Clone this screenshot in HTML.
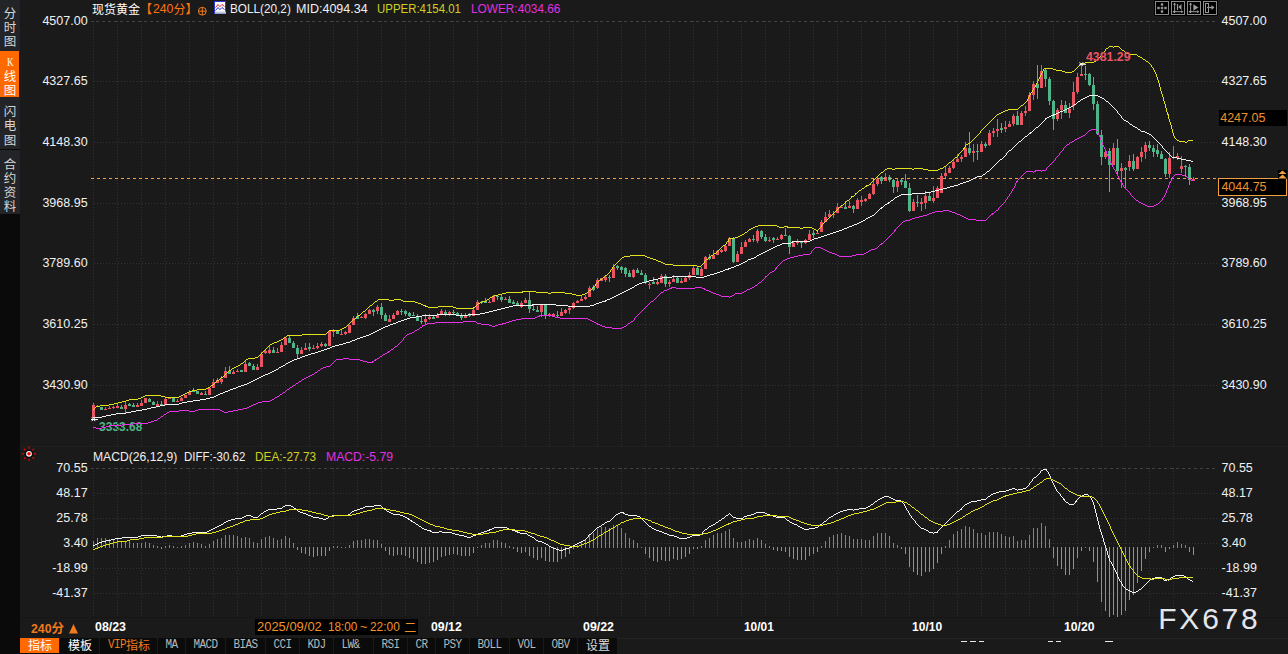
<!DOCTYPE html>
<html><head><meta charset="utf-8"><title>chart</title><style>
html,body{margin:0;padding:0;background:#1a1a1a;}
body{width:1288px;height:654px;overflow:hidden;position:relative;font-family:"Liberation Sans",sans-serif;color:#f0f0f0;}
.t{position:absolute;white-space:nowrap;line-height:16px;height:16px;}
.b{position:absolute;}
svg{position:absolute;left:0;top:0;}
.tab{position:absolute;top:638px;height:16px;background:#0b0b0b;}
.tl{display:block;font-family:"Liberation Mono",monospace;font-size:11px;letter-spacing:-0.6px;color:#b8b8b8;line-height:15px;height:15px;text-align:center;transform:scale(1,1.08);transform-origin:50% 60%;white-space:pre;}
</style></head><body>
<div class="b" style="left:0px;top:0px;width:20px;height:654px;background:#0a0a0a;"></div>
<div class="b" style="left:0px;top:0px;width:20px;height:51px;background:#222428;"></div>
<div class="b" style="left:0px;top:51px;width:19px;height:46px;background:#ff6a00;"></div>
<div class="b" style="left:0px;top:97px;width:20px;height:52px;background:#222428;"></div>
<div class="b" style="left:0px;top:150px;width:20px;height:64px;background:#222428;"></div>
<div class="b" style="left:19px;top:51px;width:1px;height:46px;background:#1e1e1e;"></div>
<div class="t" style="top:418.73px;font-size:12.6px;color:#50b488;font-weight:bold;left:98.70px;transform:scaleX(0.9550);transform-origin:0 50%;">3333.68</div>
<svg width="1288" height="654" viewBox="0 0 1288 654">
<g shape-rendering="crispEdges" stroke="#323232" stroke-width="1">
<line x1="93.5" y1="24" x2="93.5" y2="445" stroke-dasharray="1 2"/>
<line x1="93.5" y1="471" x2="93.5" y2="617" stroke-dasharray="1 2"/>
<line x1="117.5" y1="24" x2="117.5" y2="445" stroke-dasharray="1 2"/>
<line x1="117.5" y1="471" x2="117.5" y2="617" stroke-dasharray="1 2"/>
<line x1="141.5" y1="24" x2="141.5" y2="445" stroke-dasharray="1 2"/>
<line x1="141.5" y1="471" x2="141.5" y2="617" stroke-dasharray="1 2"/>
<line x1="165.5" y1="24" x2="165.5" y2="445" stroke-dasharray="1 2"/>
<line x1="165.5" y1="471" x2="165.5" y2="617" stroke-dasharray="1 2"/>
<line x1="189.5" y1="24" x2="189.5" y2="445" stroke-dasharray="1 2"/>
<line x1="189.5" y1="471" x2="189.5" y2="617" stroke-dasharray="1 2"/>
<line x1="213.5" y1="24" x2="213.5" y2="445" stroke-dasharray="1 2"/>
<line x1="213.5" y1="471" x2="213.5" y2="617" stroke-dasharray="1 2"/>
<line x1="237.5" y1="24" x2="237.5" y2="445" stroke-dasharray="1 2"/>
<line x1="237.5" y1="471" x2="237.5" y2="617" stroke-dasharray="1 2"/>
<line x1="261.5" y1="24" x2="261.5" y2="445" stroke-dasharray="1 2"/>
<line x1="261.5" y1="471" x2="261.5" y2="617" stroke-dasharray="1 2"/>
<line x1="285.5" y1="24" x2="285.5" y2="445" stroke-dasharray="1 2"/>
<line x1="285.5" y1="471" x2="285.5" y2="617" stroke-dasharray="1 2"/>
<line x1="309.5" y1="24" x2="309.5" y2="445" stroke-dasharray="1 2"/>
<line x1="309.5" y1="471" x2="309.5" y2="617" stroke-dasharray="1 2"/>
<line x1="333.5" y1="24" x2="333.5" y2="445" stroke-dasharray="1 2"/>
<line x1="333.5" y1="471" x2="333.5" y2="617" stroke-dasharray="1 2"/>
<line x1="357.5" y1="24" x2="357.5" y2="445" stroke-dasharray="1 2"/>
<line x1="357.5" y1="471" x2="357.5" y2="617" stroke-dasharray="1 2"/>
<line x1="381.5" y1="24" x2="381.5" y2="445" stroke-dasharray="1 2"/>
<line x1="381.5" y1="471" x2="381.5" y2="617" stroke-dasharray="1 2"/>
<line x1="405.5" y1="24" x2="405.5" y2="445" stroke-dasharray="1 2"/>
<line x1="405.5" y1="471" x2="405.5" y2="617" stroke-dasharray="1 2"/>
<line x1="429.5" y1="24" x2="429.5" y2="445" stroke-dasharray="1 2"/>
<line x1="429.5" y1="471" x2="429.5" y2="617" stroke-dasharray="1 2"/>
<line x1="453.5" y1="24" x2="453.5" y2="445" stroke-dasharray="1 2"/>
<line x1="453.5" y1="471" x2="453.5" y2="617" stroke-dasharray="1 2"/>
<line x1="477.5" y1="24" x2="477.5" y2="445" stroke-dasharray="1 2"/>
<line x1="477.5" y1="471" x2="477.5" y2="617" stroke-dasharray="1 2"/>
<line x1="501.5" y1="24" x2="501.5" y2="445" stroke-dasharray="1 2"/>
<line x1="501.5" y1="471" x2="501.5" y2="617" stroke-dasharray="1 2"/>
<line x1="525.5" y1="24" x2="525.5" y2="445" stroke-dasharray="1 2"/>
<line x1="525.5" y1="471" x2="525.5" y2="617" stroke-dasharray="1 2"/>
<line x1="549.5" y1="24" x2="549.5" y2="445" stroke-dasharray="1 2"/>
<line x1="549.5" y1="471" x2="549.5" y2="617" stroke-dasharray="1 2"/>
<line x1="573.5" y1="24" x2="573.5" y2="445" stroke-dasharray="1 2"/>
<line x1="573.5" y1="471" x2="573.5" y2="617" stroke-dasharray="1 2"/>
<line x1="597.5" y1="24" x2="597.5" y2="445" stroke-dasharray="1 2"/>
<line x1="597.5" y1="471" x2="597.5" y2="617" stroke-dasharray="1 2"/>
<line x1="621.5" y1="24" x2="621.5" y2="445" stroke-dasharray="1 2"/>
<line x1="621.5" y1="471" x2="621.5" y2="617" stroke-dasharray="1 2"/>
<line x1="645.5" y1="24" x2="645.5" y2="445" stroke-dasharray="1 2"/>
<line x1="645.5" y1="471" x2="645.5" y2="617" stroke-dasharray="1 2"/>
<line x1="669.5" y1="24" x2="669.5" y2="445" stroke-dasharray="1 2"/>
<line x1="669.5" y1="471" x2="669.5" y2="617" stroke-dasharray="1 2"/>
<line x1="693.5" y1="24" x2="693.5" y2="445" stroke-dasharray="1 2"/>
<line x1="693.5" y1="471" x2="693.5" y2="617" stroke-dasharray="1 2"/>
<line x1="717.5" y1="24" x2="717.5" y2="445" stroke-dasharray="1 2"/>
<line x1="717.5" y1="471" x2="717.5" y2="617" stroke-dasharray="1 2"/>
<line x1="741.5" y1="24" x2="741.5" y2="445" stroke-dasharray="1 2"/>
<line x1="741.5" y1="471" x2="741.5" y2="617" stroke-dasharray="1 2"/>
<line x1="765.5" y1="24" x2="765.5" y2="445" stroke-dasharray="1 2"/>
<line x1="765.5" y1="471" x2="765.5" y2="617" stroke-dasharray="1 2"/>
<line x1="789.5" y1="24" x2="789.5" y2="445" stroke-dasharray="1 2"/>
<line x1="789.5" y1="471" x2="789.5" y2="617" stroke-dasharray="1 2"/>
<line x1="813.5" y1="24" x2="813.5" y2="445" stroke-dasharray="1 2"/>
<line x1="813.5" y1="471" x2="813.5" y2="617" stroke-dasharray="1 2"/>
<line x1="837.5" y1="24" x2="837.5" y2="445" stroke-dasharray="1 2"/>
<line x1="837.5" y1="471" x2="837.5" y2="617" stroke-dasharray="1 2"/>
<line x1="861.5" y1="24" x2="861.5" y2="445" stroke-dasharray="1 2"/>
<line x1="861.5" y1="471" x2="861.5" y2="617" stroke-dasharray="1 2"/>
<line x1="885.5" y1="24" x2="885.5" y2="445" stroke-dasharray="1 2"/>
<line x1="885.5" y1="471" x2="885.5" y2="617" stroke-dasharray="1 2"/>
<line x1="909.5" y1="24" x2="909.5" y2="445" stroke-dasharray="1 2"/>
<line x1="909.5" y1="471" x2="909.5" y2="617" stroke-dasharray="1 2"/>
<line x1="933.5" y1="24" x2="933.5" y2="445" stroke-dasharray="1 2"/>
<line x1="933.5" y1="471" x2="933.5" y2="617" stroke-dasharray="1 2"/>
<line x1="957.5" y1="24" x2="957.5" y2="445" stroke-dasharray="1 2"/>
<line x1="957.5" y1="471" x2="957.5" y2="617" stroke-dasharray="1 2"/>
<line x1="981.5" y1="24" x2="981.5" y2="445" stroke-dasharray="1 2"/>
<line x1="981.5" y1="471" x2="981.5" y2="617" stroke-dasharray="1 2"/>
<line x1="1005.5" y1="24" x2="1005.5" y2="445" stroke-dasharray="1 2"/>
<line x1="1005.5" y1="471" x2="1005.5" y2="617" stroke-dasharray="1 2"/>
<line x1="1029.5" y1="24" x2="1029.5" y2="445" stroke-dasharray="1 2"/>
<line x1="1029.5" y1="471" x2="1029.5" y2="617" stroke-dasharray="1 2"/>
<line x1="1053.5" y1="24" x2="1053.5" y2="445" stroke-dasharray="1 2"/>
<line x1="1053.5" y1="471" x2="1053.5" y2="617" stroke-dasharray="1 2"/>
<line x1="1077.5" y1="24" x2="1077.5" y2="445" stroke-dasharray="1 2"/>
<line x1="1077.5" y1="471" x2="1077.5" y2="617" stroke-dasharray="1 2"/>
<line x1="1101.5" y1="24" x2="1101.5" y2="445" stroke-dasharray="1 2"/>
<line x1="1101.5" y1="471" x2="1101.5" y2="617" stroke-dasharray="1 2"/>
<line x1="1125.5" y1="24" x2="1125.5" y2="445" stroke-dasharray="1 2"/>
<line x1="1125.5" y1="471" x2="1125.5" y2="617" stroke-dasharray="1 2"/>
<line x1="1149.5" y1="24" x2="1149.5" y2="445" stroke-dasharray="1 2"/>
<line x1="1149.5" y1="471" x2="1149.5" y2="617" stroke-dasharray="1 2"/>
<line x1="1173.5" y1="24" x2="1173.5" y2="445" stroke-dasharray="1 2"/>
<line x1="1173.5" y1="471" x2="1173.5" y2="617" stroke-dasharray="1 2"/>
<line x1="94" y1="81.5" x2="1218" y2="81.5" stroke-dasharray="1 2"/>
<line x1="94" y1="142.5" x2="1218" y2="142.5" stroke-dasharray="1 2"/>
<line x1="94" y1="203.5" x2="1218" y2="203.5" stroke-dasharray="1 2"/>
<line x1="94" y1="263.5" x2="1218" y2="263.5" stroke-dasharray="1 2"/>
<line x1="94" y1="324.5" x2="1218" y2="324.5" stroke-dasharray="1 2"/>
<line x1="94" y1="385.5" x2="1218" y2="385.5" stroke-dasharray="1 2"/>
<line x1="94" y1="493.5" x2="1218" y2="493.5" stroke-dasharray="1 2"/>
<line x1="94" y1="518.5" x2="1218" y2="518.5" stroke-dasharray="1 2"/>
<line x1="94" y1="543.5" x2="1218" y2="543.5" stroke-dasharray="1 2"/>
<line x1="94" y1="568.5" x2="1218" y2="568.5" stroke-dasharray="1 2"/>
<line x1="94" y1="593.5" x2="1218" y2="593.5" stroke-dasharray="1 2"/>
</g>
<g shape-rendering="crispEdges" stroke="#424242" stroke-width="1">
<line x1="96" y1="21.5" x2="1218" y2="21.5" stroke-dasharray="3 3"/>
<line x1="91" y1="21.5" x2="94" y2="21.5"/>
<line x1="117" y1="21.5" x2="118" y2="21.5"/>
<line x1="141" y1="21.5" x2="142" y2="21.5"/>
<line x1="165" y1="21.5" x2="166" y2="21.5"/>
<line x1="189" y1="21.5" x2="190" y2="21.5"/>
<line x1="213" y1="21.5" x2="214" y2="21.5"/>
<line x1="237" y1="21.5" x2="238" y2="21.5"/>
<line x1="261" y1="21.5" x2="262" y2="21.5"/>
<line x1="285" y1="21.5" x2="286" y2="21.5"/>
<line x1="309" y1="21.5" x2="310" y2="21.5"/>
<line x1="333" y1="21.5" x2="334" y2="21.5"/>
<line x1="357" y1="21.5" x2="358" y2="21.5"/>
<line x1="381" y1="21.5" x2="382" y2="21.5"/>
<line x1="405" y1="21.5" x2="406" y2="21.5"/>
<line x1="429" y1="21.5" x2="430" y2="21.5"/>
<line x1="453" y1="21.5" x2="454" y2="21.5"/>
<line x1="477" y1="21.5" x2="478" y2="21.5"/>
<line x1="501" y1="21.5" x2="502" y2="21.5"/>
<line x1="525" y1="21.5" x2="526" y2="21.5"/>
<line x1="549" y1="21.5" x2="550" y2="21.5"/>
<line x1="573" y1="21.5" x2="574" y2="21.5"/>
<line x1="597" y1="21.5" x2="598" y2="21.5"/>
<line x1="621" y1="21.5" x2="622" y2="21.5"/>
<line x1="645" y1="21.5" x2="646" y2="21.5"/>
<line x1="669" y1="21.5" x2="670" y2="21.5"/>
<line x1="693" y1="21.5" x2="694" y2="21.5"/>
<line x1="717" y1="21.5" x2="718" y2="21.5"/>
<line x1="741" y1="21.5" x2="742" y2="21.5"/>
<line x1="765" y1="21.5" x2="766" y2="21.5"/>
<line x1="789" y1="21.5" x2="790" y2="21.5"/>
<line x1="813" y1="21.5" x2="814" y2="21.5"/>
<line x1="837" y1="21.5" x2="838" y2="21.5"/>
<line x1="861" y1="21.5" x2="862" y2="21.5"/>
<line x1="885" y1="21.5" x2="886" y2="21.5"/>
<line x1="909" y1="21.5" x2="910" y2="21.5"/>
<line x1="933" y1="21.5" x2="934" y2="21.5"/>
<line x1="957" y1="21.5" x2="958" y2="21.5"/>
<line x1="981" y1="21.5" x2="982" y2="21.5"/>
<line x1="1005" y1="21.5" x2="1006" y2="21.5"/>
<line x1="1029" y1="21.5" x2="1030" y2="21.5"/>
<line x1="1053" y1="21.5" x2="1054" y2="21.5"/>
<line x1="1077" y1="21.5" x2="1078" y2="21.5"/>
<line x1="1101" y1="21.5" x2="1102" y2="21.5"/>
<line x1="1125" y1="21.5" x2="1126" y2="21.5"/>
<line x1="1149" y1="21.5" x2="1150" y2="21.5"/>
<line x1="1173" y1="21.5" x2="1174" y2="21.5"/>
<line x1="96" y1="468.5" x2="1218" y2="468.5" stroke-dasharray="3 3"/>
<line x1="91" y1="468.5" x2="94" y2="468.5"/>
<line x1="117" y1="468.5" x2="118" y2="468.5"/>
<line x1="141" y1="468.5" x2="142" y2="468.5"/>
<line x1="165" y1="468.5" x2="166" y2="468.5"/>
<line x1="189" y1="468.5" x2="190" y2="468.5"/>
<line x1="213" y1="468.5" x2="214" y2="468.5"/>
<line x1="237" y1="468.5" x2="238" y2="468.5"/>
<line x1="261" y1="468.5" x2="262" y2="468.5"/>
<line x1="285" y1="468.5" x2="286" y2="468.5"/>
<line x1="309" y1="468.5" x2="310" y2="468.5"/>
<line x1="333" y1="468.5" x2="334" y2="468.5"/>
<line x1="357" y1="468.5" x2="358" y2="468.5"/>
<line x1="381" y1="468.5" x2="382" y2="468.5"/>
<line x1="405" y1="468.5" x2="406" y2="468.5"/>
<line x1="429" y1="468.5" x2="430" y2="468.5"/>
<line x1="453" y1="468.5" x2="454" y2="468.5"/>
<line x1="477" y1="468.5" x2="478" y2="468.5"/>
<line x1="501" y1="468.5" x2="502" y2="468.5"/>
<line x1="525" y1="468.5" x2="526" y2="468.5"/>
<line x1="549" y1="468.5" x2="550" y2="468.5"/>
<line x1="573" y1="468.5" x2="574" y2="468.5"/>
<line x1="597" y1="468.5" x2="598" y2="468.5"/>
<line x1="621" y1="468.5" x2="622" y2="468.5"/>
<line x1="645" y1="468.5" x2="646" y2="468.5"/>
<line x1="669" y1="468.5" x2="670" y2="468.5"/>
<line x1="693" y1="468.5" x2="694" y2="468.5"/>
<line x1="717" y1="468.5" x2="718" y2="468.5"/>
<line x1="741" y1="468.5" x2="742" y2="468.5"/>
<line x1="765" y1="468.5" x2="766" y2="468.5"/>
<line x1="789" y1="468.5" x2="790" y2="468.5"/>
<line x1="813" y1="468.5" x2="814" y2="468.5"/>
<line x1="837" y1="468.5" x2="838" y2="468.5"/>
<line x1="861" y1="468.5" x2="862" y2="468.5"/>
<line x1="885" y1="468.5" x2="886" y2="468.5"/>
<line x1="909" y1="468.5" x2="910" y2="468.5"/>
<line x1="933" y1="468.5" x2="934" y2="468.5"/>
<line x1="957" y1="468.5" x2="958" y2="468.5"/>
<line x1="981" y1="468.5" x2="982" y2="468.5"/>
<line x1="1005" y1="468.5" x2="1006" y2="468.5"/>
<line x1="1029" y1="468.5" x2="1030" y2="468.5"/>
<line x1="1053" y1="468.5" x2="1054" y2="468.5"/>
<line x1="1077" y1="468.5" x2="1078" y2="468.5"/>
<line x1="1101" y1="468.5" x2="1102" y2="468.5"/>
<line x1="1125" y1="468.5" x2="1126" y2="468.5"/>
<line x1="1149" y1="468.5" x2="1150" y2="468.5"/>
<line x1="1173" y1="468.5" x2="1174" y2="468.5"/>
</g>
<g shape-rendering="crispEdges">
<path fill="#ea5564" d="M93 403h1v2h-1zM92 405h3v13h-3zM105 407h1v2h-1zM104 409h3v1h-3zM109 406h1v2h-1zM108 408h3v1h-3zM113 406h1v1h-1zM113 408h1v1h-1zM112 407h3v1h-3zM117 404h1v2h-1zM116 406h3v2h-3zM125 402h1v3h-1zM125 409h1v4h-1zM124 405h3v4h-3zM137 403h1v2h-1zM136 405h3v2h-3zM141 400h1v3h-1zM140 403h3v3h-3zM144 398h3v5h-3zM157 401h1v3h-1zM156 404h3v2h-3zM165 398h1v1h-1zM164 399h3v6h-3zM168 398h3v1h-3zM177 399h1v2h-1zM176 401h3v1h-3zM181 397h1v1h-1zM180 398h3v3h-3zM184 395h3v3h-3zM189 390h1v2h-1zM188 392h3v3h-3zM201 392h1v1h-1zM200 393h3v2h-3zM208 388h3v7h-3zM213 379h1v3h-1zM212 382h3v6h-3zM217 378h1v2h-1zM216 380h3v3h-3zM221 376h1v3h-1zM221 382h1v2h-1zM220 379h3v3h-3zM225 367h1v4h-1zM224 371h3v7h-3zM233 370h1v2h-1zM232 372h3v2h-3zM237 369h1v2h-1zM236 371h3v1h-3zM245 360h1v4h-1zM244 364h3v8h-3zM257 364h1v3h-1zM256 367h3v3h-3zM261 352h1v2h-1zM260 354h3v13h-3zM265 350h1v1h-1zM265 353h1v1h-1zM264 351h3v2h-3zM269 346h1v4h-1zM269 353h1v1h-1zM268 350h3v3h-3zM277 348h1v4h-1zM276 352h3v1h-3zM281 342h1v3h-1zM280 345h3v7h-3zM285 337h1v1h-1zM284 338h3v7h-3zM301 347h1v3h-1zM300 350h3v4h-3zM305 343h1v5h-1zM304 348h3v2h-3zM313 345h1v3h-1zM312 348h3v1h-3zM317 343h1v3h-1zM317 348h1v1h-1zM316 346h3v2h-3zM321 342h1v2h-1zM321 346h1v1h-1zM320 344h3v2h-3zM329 330h1v1h-1zM328 331h3v15h-3zM333 329h1v1h-1zM333 332h1v5h-1zM332 330h3v2h-3zM341 330h1v4h-1zM340 334h3v1h-3zM345 331h1v1h-1zM345 334h1v1h-1zM344 332h3v2h-3zM348 325h3v8h-3zM353 316h1v2h-1zM352 318h3v7h-3zM361 316h1v1h-1zM360 317h3v1h-3zM365 313h1v1h-1zM365 318h1v1h-1zM364 314h3v4h-3zM369 309h1v1h-1zM368 310h3v4h-3zM377 305h1v2h-1zM377 311h1v3h-1zM376 307h3v4h-3zM389 315h1v4h-1zM388 319h3v3h-3zM393 313h1v2h-1zM392 315h3v4h-3zM397 310h1v1h-1zM396 311h3v4h-3zM425 314h1v5h-1zM425 322h1v2h-1zM424 319h3v3h-3zM429 314h1v3h-1zM429 319h1v1h-1zM428 317h3v2h-3zM437 313h1v2h-1zM436 315h3v3h-3zM441 309h1v2h-1zM440 311h3v3h-3zM449 311h1v1h-1zM449 314h1v2h-1zM448 312h3v2h-3zM465 313h1v2h-1zM464 315h3v3h-3zM473 308h1v2h-1zM472 310h3v6h-3zM477 300h1v2h-1zM476 302h3v8h-3zM489 300h1v2h-1zM488 302h3v1h-3zM493 295h1v1h-1zM492 296h3v6h-3zM505 297h1v2h-1zM504 299h3v1h-3zM521 301h1v2h-1zM521 307h1v1h-1zM520 303h3v4h-3zM525 298h1v2h-1zM524 300h3v3h-3zM541 312h1v5h-1zM540 305h3v7h-3zM549 313h1v1h-1zM549 316h1v1h-1zM548 314h3v2h-3zM553 313h1v1h-1zM553 316h1v1h-1zM552 314h3v2h-3zM561 308h1v4h-1zM560 312h3v4h-3zM565 309h1v1h-1zM565 313h1v1h-1zM564 310h3v3h-3zM569 307h1v1h-1zM569 310h1v4h-1zM568 308h3v2h-3zM573 302h1v1h-1zM573 308h1v1h-1zM572 303h3v5h-3zM577 300h1v1h-1zM576 301h3v2h-3zM581 296h1v3h-1zM580 299h3v2h-3zM585 295h1v2h-1zM585 299h1v1h-1zM584 297h3v2h-3zM589 286h1v2h-1zM588 288h3v9h-3zM597 278h1v2h-1zM597 288h1v1h-1zM596 280h3v8h-3zM600 278h3v3h-3zM605 276h1v1h-1zM605 280h1v2h-1zM604 277h3v3h-3zM613 264h1v3h-1zM612 267h3v11h-3zM633 269h1v1h-1zM633 277h1v1h-1zM632 270h3v7h-3zM649 282h1v2h-1zM649 285h1v4h-1zM648 284h3v1h-3zM657 280h1v2h-1zM657 284h1v1h-1zM656 282h3v2h-3zM661 274h1v2h-1zM660 276h3v7h-3zM669 280h1v2h-1zM669 284h1v3h-1zM668 282h3v2h-3zM673 275h1v4h-1zM672 279h3v3h-3zM681 278h1v3h-1zM680 281h3v2h-3zM685 277h1v1h-1zM684 278h3v4h-3zM689 272h1v3h-1zM689 278h1v2h-1zM688 275h3v3h-3zM693 266h1v2h-1zM692 268h3v7h-3zM701 267h1v2h-1zM700 269h3v7h-3zM705 256h1v1h-1zM704 257h3v12h-3zM713 250h1v5h-1zM712 255h3v4h-3zM717 250h1v1h-1zM716 251h3v4h-3zM721 249h1v1h-1zM721 252h1v1h-1zM720 250h3v2h-3zM725 244h1v2h-1zM725 251h1v1h-1zM724 246h3v5h-3zM729 237h1v1h-1zM728 238h3v8h-3zM737 251h1v3h-1zM736 254h3v8h-3zM741 242h1v5h-1zM740 247h3v7h-3zM745 240h1v2h-1zM744 242h3v5h-3zM749 238h1v1h-1zM748 239h3v3h-3zM757 229h1v2h-1zM757 241h1v2h-1zM756 231h3v10h-3zM769 237h1v3h-1zM769 241h1v1h-1zM768 240h3v1h-3zM777 237h1v2h-1zM776 239h3v1h-3zM781 234h1v1h-1zM781 239h1v1h-1zM780 235h3v4h-3zM793 241h1v2h-1zM792 243h3v4h-3zM797 239h1v3h-1zM797 243h1v2h-1zM796 242h3v1h-3zM805 239h1v1h-1zM805 243h1v1h-1zM804 240h3v3h-3zM809 230h1v4h-1zM808 234h3v6h-3zM817 231h1v2h-1zM816 233h3v1h-3zM821 220h1v2h-1zM820 222h3v10h-3zM825 212h1v5h-1zM824 217h3v5h-3zM829 210h1v4h-1zM828 214h3v3h-3zM833 211h1v3h-1zM833 215h1v3h-1zM832 214h3v1h-3zM837 203h1v4h-1zM836 207h3v6h-3zM841 206h1v1h-1zM840 207h3v1h-3zM849 201h1v5h-1zM848 206h3v2h-3zM857 198h1v2h-1zM856 200h3v9h-3zM861 196h1v4h-1zM861 202h1v4h-1zM860 200h3v2h-3zM865 198h1v1h-1zM865 201h1v1h-1zM864 199h3v2h-3zM869 193h1v1h-1zM868 194h3v5h-3zM873 181h1v3h-1zM873 194h1v1h-1zM872 184h3v10h-3zM877 177h1v2h-1zM877 184h1v2h-1zM876 179h3v5h-3zM885 173h1v4h-1zM884 177h3v4h-3zM897 179h1v2h-1zM897 187h1v5h-1zM896 181h3v6h-3zM913 199h1v3h-1zM912 202h3v9h-3zM921 198h1v4h-1zM921 204h1v7h-1zM920 202h3v2h-3zM925 191h1v5h-1zM925 203h1v6h-1zM924 196h3v7h-3zM933 186h1v12h-1zM933 201h1v2h-1zM932 198h3v3h-3zM937 186h1v2h-1zM936 188h3v10h-3zM941 173h1v3h-1zM940 176h3v17h-3zM945 167h1v6h-1zM945 176h1v2h-1zM944 173h3v3h-3zM949 166h1v2h-1zM948 168h3v5h-3zM953 160h1v2h-1zM953 168h1v1h-1zM952 162h3v6h-3zM957 154h1v5h-1zM956 159h3v3h-3zM961 155h1v2h-1zM961 159h1v3h-1zM960 157h3v2h-3zM965 142h1v6h-1zM964 148h3v9h-3zM973 144h1v7h-1zM973 153h1v9h-1zM972 151h3v2h-3zM981 141h1v3h-1zM980 144h3v8h-3zM989 130h1v3h-1zM989 145h1v1h-1zM988 133h3v12h-3zM993 128h1v3h-1zM993 133h1v4h-1zM992 131h3v2h-3zM997 119h1v10h-1zM997 131h1v6h-1zM996 129h3v2h-3zM1005 121h1v6h-1zM1005 129h1v3h-1zM1004 127h3v2h-3zM1009 121h1v3h-1zM1008 124h3v3h-3zM1013 114h1v2h-1zM1013 124h1v2h-1zM1012 116h3v8h-3zM1021 111h1v2h-1zM1020 113h3v12h-3zM1025 106h1v5h-1zM1025 113h1v3h-1zM1024 111h3v2h-3zM1029 92h1v3h-1zM1028 95h3v16h-3zM1033 81h1v3h-1zM1033 95h1v5h-1zM1032 84h3v11h-3zM1041 65h1v6h-1zM1040 71h3v17h-3zM1057 108h1v2h-1zM1057 119h1v2h-1zM1056 110h3v9h-3zM1061 100h1v5h-1zM1061 110h1v9h-1zM1060 105h3v5h-3zM1069 103h1v6h-1zM1069 113h1v5h-1zM1068 109h3v4h-3zM1073 82h1v10h-1zM1073 106h1v4h-1zM1072 92h3v14h-3zM1077 73h1v4h-1zM1077 92h1v2h-1zM1076 77h3v15h-3zM1081 63h1v11h-1zM1080 74h3v2h-3zM1105 149h1v3h-1zM1105 157h1v2h-1zM1104 152h3v5h-3zM1113 143h1v5h-1zM1112 148h3v17h-3zM1121 163h1v5h-1zM1121 171h1v17h-1zM1120 168h3v3h-3zM1129 155h1v6h-1zM1129 167h1v4h-1zM1128 161h3v6h-3zM1137 156h1v1h-1zM1136 157h3v12h-3zM1141 147h1v5h-1zM1141 157h1v5h-1zM1140 152h3v5h-3zM1145 142h1v3h-1zM1145 152h1v7h-1zM1144 145h3v7h-3zM1169 152h1v6h-1zM1169 174h1v4h-1zM1168 158h3v16h-3zM1173 146h1v11h-1zM1173 158h1v1h-1zM1172 157h3v1h-3zM1177 153h1v3h-1zM1177 158h1v2h-1zM1176 156h3v2h-3zM1181 156h1v10h-1zM1181 169h1v4h-1zM1180 166h3v3h-3zM1193 177h1v2h-1zM1192 179h3v2h-3z"/>
<path fill="#50b488" d="M97 405h1v1h-1zM96 406h3v1h-3zM100 407h3v3h-3zM121 405h1v2h-1zM120 407h3v2h-3zM129 403h1v1h-1zM128 404h3v2h-3zM133 403h1v2h-1zM132 405h3v2h-3zM149 398h1v1h-1zM148 399h3v3h-3zM153 401h1v1h-1zM152 402h3v3h-3zM161 401h1v3h-1zM160 404h3v2h-3zM172 398h3v4h-3zM193 388h1v3h-1zM192 391h3v1h-3zM196 391h3v3h-3zM205 391h1v3h-1zM204 394h3v1h-3zM229 366h1v5h-1zM228 371h3v3h-3zM240 370h3v2h-3zM249 362h1v1h-1zM248 363h3v3h-3zM253 364h1v2h-1zM252 366h3v4h-3zM273 347h1v3h-1zM272 350h3v3h-3zM289 336h1v2h-1zM288 338h3v5h-3zM293 341h1v2h-1zM292 343h3v5h-3zM297 345h1v3h-1zM297 354h1v4h-1zM296 348h3v6h-3zM309 343h1v4h-1zM309 349h1v2h-1zM308 347h3v2h-3zM325 343h1v1h-1zM325 346h1v1h-1zM324 344h3v2h-3zM336 331h3v3h-3zM357 313h1v3h-1zM356 316h3v3h-3zM373 309h1v1h-1zM373 312h1v4h-1zM372 310h3v2h-3zM381 303h1v4h-1zM381 315h1v4h-1zM380 307h3v8h-3zM385 313h1v2h-1zM384 315h3v6h-3zM401 309h1v2h-1zM401 312h1v3h-1zM400 311h3v1h-3zM405 310h1v1h-1zM405 314h1v2h-1zM404 311h3v3h-3zM409 312h1v1h-1zM409 316h1v1h-1zM408 313h3v3h-3zM413 312h1v3h-1zM412 315h3v1h-3zM417 314h1v2h-1zM416 316h3v5h-3zM421 317h1v4h-1zM421 322h1v2h-1zM420 321h3v1h-3zM433 316h1v1h-1zM432 317h3v2h-3zM445 310h1v2h-1zM445 314h1v2h-1zM444 312h3v2h-3zM453 310h1v2h-1zM453 313h1v2h-1zM452 312h3v1h-3zM457 312h1v1h-1zM457 315h1v1h-1zM456 313h3v2h-3zM461 313h1v3h-1zM461 318h1v2h-1zM460 316h3v2h-3zM469 313h1v1h-1zM469 316h1v1h-1zM468 314h3v2h-3zM481 301h1v1h-1zM481 303h1v1h-1zM480 302h3v1h-3zM485 298h1v3h-1zM484 301h3v2h-3zM497 297h1v3h-1zM496 296h3v1h-3zM501 295h1v2h-1zM501 300h1v2h-1zM500 297h3v3h-3zM509 296h1v3h-1zM508 299h3v4h-3zM513 300h1v2h-1zM512 302h3v2h-3zM517 301h1v2h-1zM516 303h3v3h-3zM529 292h1v8h-1zM529 309h1v4h-1zM528 300h3v9h-3zM533 305h1v4h-1zM533 310h1v1h-1zM532 309h3v1h-3zM537 306h1v4h-1zM536 310h3v2h-3zM545 315h1v4h-1zM544 305h3v10h-3zM557 311h1v4h-1zM557 316h1v1h-1zM556 315h3v1h-3zM593 285h1v2h-1zM593 290h1v1h-1zM592 287h3v3h-3zM609 275h1v2h-1zM609 278h1v4h-1zM608 277h3v1h-3zM617 265h1v1h-1zM617 268h1v2h-1zM616 266h3v2h-3zM621 266h1v1h-1zM621 270h1v3h-1zM620 267h3v3h-3zM625 267h1v1h-1zM625 274h1v3h-1zM624 268h3v6h-3zM629 270h1v3h-1zM628 273h3v4h-3zM637 268h1v2h-1zM636 270h3v3h-3zM641 270h1v3h-1zM640 273h3v2h-3zM645 273h1v2h-1zM645 283h1v1h-1zM644 275h3v8h-3zM653 277h1v5h-1zM652 282h3v2h-3zM665 274h1v2h-1zM665 284h1v3h-1zM664 276h3v8h-3zM677 277h1v1h-1zM676 278h3v5h-3zM697 267h1v1h-1zM696 268h3v7h-3zM709 254h1v3h-1zM709 259h1v1h-1zM708 257h3v2h-3zM733 237h1v1h-1zM733 262h1v1h-1zM732 238h3v24h-3zM753 235h1v4h-1zM753 240h1v2h-1zM752 239h3v1h-3zM761 230h1v1h-1zM761 237h1v2h-1zM760 231h3v6h-3zM765 234h1v3h-1zM765 241h1v1h-1zM764 237h3v4h-3zM773 237h1v1h-1zM773 240h1v3h-1zM772 238h3v2h-3zM785 228h1v7h-1zM784 235h3v1h-3zM789 235h1v1h-1zM789 247h1v7h-1zM788 236h3v11h-3zM801 243h1v5h-1zM800 242h3v1h-3zM813 230h1v3h-1zM813 235h1v3h-1zM812 233h3v2h-3zM845 201h1v6h-1zM844 207h3v2h-3zM853 205h1v1h-1zM853 209h1v4h-1zM852 206h3v3h-3zM881 176h1v1h-1zM881 181h1v3h-1zM880 177h3v4h-3zM889 175h1v2h-1zM889 180h1v2h-1zM888 177h3v3h-3zM893 179h1v1h-1zM893 187h1v6h-1zM892 180h3v7h-3zM901 179h1v1h-1zM901 182h1v3h-1zM900 180h3v2h-3zM905 174h1v7h-1zM904 181h3v7h-3zM909 183h1v5h-1zM909 211h1v1h-1zM908 188h3v23h-3zM917 195h1v7h-1zM917 203h1v4h-1zM916 202h3v1h-3zM929 193h1v3h-1zM928 196h3v5h-3zM969 132h1v16h-1zM969 153h1v2h-1zM968 148h3v5h-3zM977 144h1v7h-1zM977 152h1v8h-1zM976 151h3v1h-3zM985 142h1v2h-1zM985 146h1v2h-1zM984 144h3v2h-3zM1001 123h1v5h-1zM1001 130h1v3h-1zM1000 128h3v2h-3zM1017 111h1v5h-1zM1016 116h3v9h-3zM1037 65h1v19h-1zM1037 88h1v11h-1zM1036 84h3v4h-3zM1045 69h1v1h-1zM1045 79h1v8h-1zM1044 70h3v9h-3zM1049 77h1v2h-1zM1049 101h1v4h-1zM1048 79h3v22h-3zM1053 100h1v1h-1zM1053 119h1v11h-1zM1052 101h3v18h-3zM1065 101h1v4h-1zM1064 105h3v8h-3zM1085 66h1v8h-1zM1085 75h1v5h-1zM1084 74h3v1h-3zM1089 73h1v1h-1zM1089 85h1v1h-1zM1088 74h3v11h-3zM1093 77h1v8h-1zM1093 104h1v6h-1zM1092 85h3v19h-3zM1097 101h1v3h-1zM1097 134h1v1h-1zM1096 104h3v30h-3zM1101 130h1v5h-1zM1101 157h1v8h-1zM1100 135h3v22h-3zM1109 148h1v3h-1zM1109 165h1v27h-1zM1108 151h3v14h-3zM1117 139h1v9h-1zM1117 171h1v3h-1zM1116 148h3v23h-3zM1125 167h1v1h-1zM1125 170h1v18h-1zM1124 168h3v2h-3zM1133 154h1v7h-1zM1133 169h1v2h-1zM1132 161h3v8h-3zM1149 141h1v4h-1zM1149 148h1v3h-1zM1148 145h3v3h-3zM1153 145h1v3h-1zM1153 152h1v5h-1zM1152 148h3v4h-3zM1157 144h1v6h-1zM1157 154h1v3h-1zM1156 150h3v4h-3zM1161 151h1v3h-1zM1160 154h3v5h-3zM1165 158h1v1h-1zM1165 174h1v3h-1zM1164 159h3v15h-3zM1185 165h1v1h-1zM1185 167h1v9h-1zM1184 166h3v1h-3zM1189 164h1v3h-1zM1189 180h1v5h-1zM1188 167h3v13h-3z"/>
<path fill="#ea5564" d="M93 541h1v7h-1zM97 538h1v10h-1zM101 538h1v10h-1zM105 538h1v10h-1zM109 539h1v9h-1zM113 539h1v9h-1zM117 539h1v9h-1zM121 541h1v7h-1zM125 541h1v7h-1zM129 541h1v7h-1zM133 543h1v5h-1zM137 543h1v5h-1zM141 543h1v5h-1zM145 542h1v6h-1zM149 543h1v5h-1zM153 545h1v3h-1zM157 546h1v2h-1zM165 546h1v2h-1zM169 545h1v3h-1zM173 546h1v2h-1zM177 547h1v1h-1zM181 546h1v2h-1zM185 545h1v3h-1zM189 543h1v5h-1zM193 542h1v6h-1zM197 543h1v5h-1zM201 544h1v4h-1zM205 546h1v2h-1zM209 544h1v4h-1zM213 541h1v7h-1zM217 539h1v9h-1zM221 538h1v10h-1zM225 535h1v13h-1zM229 535h1v13h-1zM233 535h1v13h-1zM237 536h1v12h-1zM241 538h1v10h-1zM245 537h1v11h-1zM249 538h1v10h-1zM253 542h1v6h-1zM257 543h1v5h-1zM261 539h1v9h-1zM265 537h1v11h-1zM269 536h1v12h-1zM273 538h1v10h-1zM277 540h1v8h-1zM281 539h1v9h-1zM285 536h1v12h-1zM289 538h1v10h-1zM293 543h1v5h-1zM333 546h1v2h-1zM337 546h1v2h-1zM341 547h1v1h-1zM345 547h1v1h-1zM349 545h1v3h-1zM353 541h1v7h-1zM357 540h1v8h-1zM361 540h1v8h-1zM365 539h1v9h-1zM369 539h1v9h-1zM373 540h1v8h-1zM377 540h1v8h-1zM381 544h1v4h-1zM477 547h1v1h-1zM481 545h1v3h-1zM485 543h1v5h-1zM489 543h1v5h-1zM493 540h1v8h-1zM497 540h1v8h-1zM501 542h1v6h-1zM505 543h1v5h-1zM509 546h1v2h-1zM577 545h1v3h-1zM581 542h1v6h-1zM585 540h1v8h-1zM589 535h1v13h-1zM593 533h1v15h-1zM597 529h1v19h-1zM601 527h1v21h-1zM605 527h1v21h-1zM609 528h1v20h-1zM613 525h1v23h-1zM617 525h1v23h-1zM621 528h1v20h-1zM625 533h1v15h-1zM629 538h1v10h-1zM633 540h1v8h-1zM637 543h1v5h-1zM641 547h1v1h-1zM701 546h1v2h-1zM705 540h1v8h-1zM709 538h1v10h-1zM713 535h1v13h-1zM717 533h1v15h-1zM721 533h1v15h-1zM725 531h1v17h-1zM729 529h1v19h-1zM733 538h1v10h-1zM737 542h1v6h-1zM741 542h1v6h-1zM745 541h1v7h-1zM749 539h1v9h-1zM753 540h1v8h-1zM757 538h1v10h-1zM761 540h1v8h-1zM765 544h1v4h-1zM769 546h1v2h-1zM821 546h1v2h-1zM825 541h1v7h-1zM829 537h1v11h-1zM833 535h1v13h-1zM837 534h1v14h-1zM841 533h1v15h-1zM845 535h1v13h-1zM849 536h1v12h-1zM853 539h1v9h-1zM857 539h1v9h-1zM861 539h1v9h-1zM865 540h1v8h-1zM869 540h1v8h-1zM873 536h1v12h-1zM877 533h1v15h-1zM881 533h1v15h-1zM885 533h1v15h-1zM889 536h1v12h-1zM893 543h1v5h-1zM897 545h1v3h-1zM945 546h1v2h-1zM949 540h1v8h-1zM953 534h1v14h-1zM957 531h1v17h-1zM961 529h1v19h-1zM965 526h1v22h-1zM969 527h1v21h-1zM973 529h1v19h-1zM977 533h1v15h-1zM981 533h1v15h-1zM985 535h1v13h-1zM989 532h1v16h-1zM993 532h1v16h-1zM997 532h1v16h-1zM1001 534h1v14h-1zM1005 536h1v12h-1zM1009 537h1v11h-1zM1013 536h1v12h-1zM1017 541h1v7h-1zM1021 540h1v8h-1zM1025 540h1v8h-1zM1029 535h1v13h-1zM1033 528h1v20h-1zM1037 528h1v20h-1zM1041 523h1v25h-1zM1045 526h1v22h-1zM1049 539h1v9h-1zM1085 547h1v1h-1zM1153 547h1v1h-1zM1157 545h1v3h-1zM1161 545h1v3h-1zM1173 545h1v3h-1zM1177 542h1v6h-1zM1181 544h1v4h-1zM1185 545h1v3h-1z"/>
<path fill="#50b488" d="M161 547h1v2h-1zM297 547h1v3h-1zM301 547h1v6h-1zM305 547h1v7h-1zM309 547h1v9h-1zM313 547h1v10h-1zM317 547h1v9h-1zM321 547h1v9h-1zM325 547h1v9h-1zM329 547h1v4h-1zM385 547h1v4h-1zM389 547h1v8h-1zM393 547h1v9h-1zM397 547h1v8h-1zM401 547h1v8h-1zM405 547h1v9h-1zM409 547h1v11h-1zM413 547h1v12h-1zM417 547h1v15h-1zM421 547h1v17h-1zM425 547h1v17h-1zM429 547h1v16h-1zM433 547h1v15h-1zM437 547h1v13h-1zM441 547h1v10h-1zM445 547h1v9h-1zM449 547h1v8h-1zM453 547h1v7h-1zM457 547h1v8h-1zM461 547h1v9h-1zM465 547h1v9h-1zM469 547h1v9h-1zM473 547h1v6h-1zM513 547h1v2h-1zM517 547h1v5h-1zM521 547h1v6h-1zM525 547h1v5h-1zM529 547h1v9h-1zM533 547h1v11h-1zM537 547h1v13h-1zM541 547h1v11h-1zM545 547h1v14h-1zM549 547h1v15h-1zM553 547h1v15h-1zM557 547h1v15h-1zM561 547h1v12h-1zM565 547h1v10h-1zM569 547h1v7h-1zM573 547h1v2h-1zM645 547h1v7h-1zM649 547h1v11h-1zM653 547h1v14h-1zM657 547h1v15h-1zM661 547h1v13h-1zM665 547h1v14h-1zM669 547h1v14h-1zM673 547h1v12h-1zM677 547h1v13h-1zM681 547h1v12h-1zM685 547h1v10h-1zM689 547h1v7h-1zM693 547h1v2h-1zM697 547h1v2h-1zM773 547h1v3h-1zM777 547h1v4h-1zM781 547h1v4h-1zM785 547h1v5h-1zM789 547h1v10h-1zM793 547h1v12h-1zM797 547h1v13h-1zM801 547h1v13h-1zM805 547h1v13h-1zM809 547h1v9h-1zM813 547h1v7h-1zM817 547h1v5h-1zM901 547h1v2h-1zM905 547h1v7h-1zM909 547h1v20h-1zM913 547h1v25h-1zM917 547h1v28h-1zM921 547h1v29h-1zM925 547h1v25h-1zM929 547h1v25h-1zM933 547h1v22h-1zM937 547h1v16h-1zM941 547h1v7h-1zM1053 547h1v11h-1zM1057 547h1v19h-1zM1061 547h1v22h-1zM1065 547h1v28h-1zM1069 547h1v28h-1zM1073 547h1v22h-1zM1077 547h1v11h-1zM1081 547h1v4h-1zM1089 547h1v4h-1zM1093 547h1v15h-1zM1097 547h1v35h-1zM1101 547h1v55h-1zM1105 547h1v64h-1zM1109 547h1v71h-1zM1113 547h1v68h-1zM1117 547h1v71h-1zM1121 547h1v68h-1zM1125 547h1v64h-1zM1129 547h1v53h-1zM1133 547h1v48h-1zM1137 547h1v36h-1zM1141 547h1v24h-1zM1145 547h1v12h-1zM1149 547h1v5h-1zM1165 547h1v5h-1zM1169 547h1v2h-1zM1189 547h1v5h-1zM1193 547h1v8h-1z"/>
</g>
<line x1="91" y1="178.5" x2="1217" y2="178.5" stroke="#f0a040" stroke-width="1" stroke-dasharray="3 3" shape-rendering="crispEdges"/>
<path fill="#f2f2f2" shape-rendering="crispEdges" d="M791 242h2v1h-2zM102 416h4v1h-4zM274 370h2v1h-2zM983 174h2v1h-2zM1047 117h2v1h-2zM513 305h20v1h-20zM556 305h12v1h-12zM590 305h4v1h-4zM422 315h15v1h-15zM456 315h12v1h-12zM599 302h3v1h-3zM1081 99h2v1h-2zM238 386h3v1h-3zM763 252h2v1h-2zM369 334h2v1h-2zM836 231h3v1h-3zM1029 133h2v1h-2zM1147 133h2v1h-2zM1078 101h2v1h-2zM1106 101h2v1h-2zM642 282h4v1h-4zM728 268h3v1h-3zM931 191h4v1h-4zM136 410h6v1h-6zM404 319h3v1h-3zM707 275h3v1h-3zM870 216h2v1h-2zM987 171h2v1h-2zM792 241h18v1h-18zM106 415h5v1h-5zM497 309h4v1h-4zM318 351h3v1h-3zM672 276h24v1h-24zM704 276h3v1h-3zM1087 96h2v1h-2zM1098 96h2v1h-2zM818 237h3v1h-3zM925 192h6v1h-6zM736 265h3v1h-3zM259 377h2v1h-2zM777 245h3v1h-3zM480 313h5v1h-5zM388 325h2v1h-2zM1141 131h4v1h-4zM745 261h2v1h-2zM292 360h2v1h-2zM437 314h19v1h-19zM468 314h12v1h-12zM116 413h10v1h-10zM963 182h3v1h-3zM410 317h6v1h-6zM532 304h24v1h-24zM594 304h2v1h-2zM1000 159h2v1h-2zM1181 159h5v1h-5zM901 194h11v1h-11zM200 399h6v1h-6zM505 307h4v1h-4zM255 379h2v1h-2zM1036 127h2v1h-2zM1135 127h2v1h-2zM485 312h4v1h-4zM308 354h3v1h-3zM824 235h3v1h-3zM741 263h2v1h-2zM782 243h9v1h-9zM93 417h9v1h-9zM385 326h3v1h-3zM852 225h2v1h-2zM1056 113h2v1h-2zM1089 95h9v1h-9zM1138 129h2v1h-2zM662 277h10v1h-10zM696 277h8v1h-8zM131 411h5v1h-5zM630 288h2v1h-2zM270 372h2v1h-2zM725 269h4v1h-4zM977 176h5v1h-5zM1051 115h3v1h-3zM165 404h14v1h-14zM759 254h2v1h-2zM885 204h2v1h-2zM830 233h3v1h-3zM416 316h6v1h-6zM950 186h4v1h-4zM1049 116h2v1h-2zM206 398h4v1h-4zM1009 150h2v1h-2zM866 218h2v1h-2zM1071 106h2v1h-2zM187 401h6v1h-6zM156 406h4v1h-4zM297 358h3v1h-3zM1083 98h2v1h-2zM1102 98h2v1h-2zM509 306h4v1h-4zM568 306h22v1h-22zM1186 160h5v1h-5zM343 343h3v1h-3zM731 267h3v1h-3zM193 400h7v1h-7zM288 362h2v1h-2zM958 184h2v1h-2zM842 229h2v1h-2zM639 283h3v1h-3zM649 280h4v1h-4zM939 189h4v1h-4zM1191 161h2v1h-2zM714 273h3v1h-3zM1172 157h5v1h-5zM251 381h2v1h-2zM302 356h3v1h-3zM612 297h2v1h-2zM220 393h3v1h-3zM1069 107h2v1h-2zM751 258h3v1h-3zM350 341h2v1h-2zM912 193h13v1h-13zM126 412h5v1h-5zM327 348h3v1h-3zM381 328h2v1h-2zM847 227h2v1h-2zM147 408h4v1h-4zM1124 120h2v1h-2zM230 389h3v1h-3zM646 281h3v1h-3zM265 374h3v1h-3zM626 290h2v1h-2zM720 271h3v1h-3zM396 322h2v1h-2zM854 224h3v1h-3zM151 407h5v1h-5zM225 391h3v1h-3zM863 220h2v1h-2zM1067 108h2v1h-2zM632 287h2v1h-2zM897 196h2v1h-2zM366 335h3v1h-3zM596 303h3v1h-3zM602 301h4v1h-4zM241 385h3v1h-3zM761 253h2v1h-2zM954 185h4v1h-4zM1149 134h2v1h-2zM493 310h4v1h-4zM315 352h3v1h-3zM210 397h4v1h-4zM401 320h3v1h-3zM859 222h2v1h-2zM935 190h4v1h-4zM1063 110h2v1h-2zM827 234h3v1h-3zM160 405h5v1h-5zM276 369h2v1h-2zM814 238h4v1h-4zM1019 141h2v1h-2zM775 246h2v1h-2zM780 244h2v1h-2zM607 299h3v1h-3zM407 318h3v1h-3zM294 359h3v1h-3zM111 414h5v1h-5zM501 308h4v1h-4zM321 350h3v1h-3zM377 330h2v1h-2zM1130 124h2v1h-2zM253 380h2v1h-2zM743 262h2v1h-2zM390 324h3v1h-3zM300 357h2v1h-2zM710 274h4v1h-4zM182 402h5v1h-5zM849 226h3v1h-3zM966 181h3v1h-3zM332 346h3v1h-3zM628 289h2v1h-2zM268 373h2v1h-2zM489 311h4v1h-4zM272 371h2v1h-2zM311 353h4v1h-4zM757 255h2v1h-2zM357 338h3v1h-3zM1058 112h2v1h-2zM868 217h2v1h-2zM717 272h3v1h-3zM305 355h3v1h-3zM899 195h2v1h-2zM891 200h2v1h-2zM339 344h4v1h-4zM1126 121h2v1h-2zM839 230h3v1h-3zM363 336h3v1h-3zM142 409h5v1h-5zM290 361h2v1h-2zM1177 158h4v1h-4zM960 183h3v1h-3zM373 332h2v1h-2zM249 382h2v1h-2zM812 239h2v1h-2zM821 236h3v1h-3zM218 394h2v1h-2zM739 264h2v1h-2zM844 228h3v1h-3zM383 327h2v1h-2zM653 279h5v1h-5zM943 188h4v1h-4zM624 291h2v1h-2zM263 375h2v1h-2zM723 270h2v1h-2zM1045 118h2v1h-2zM352 340h3v1h-3zM754 257h2v1h-2zM228 390h2v1h-2zM1053 114h3v1h-3zM861 221h2v1h-2zM620 293h2v1h-2zM895 197h2v1h-2zM888 202h2v1h-2zM748 259h3v1h-3zM398 321h3v1h-3zM857 223h2v1h-2zM1065 109h2v1h-2zM833 232h3v1h-3zM880 208h2v1h-2zM286 363h2v1h-2zM393 323h3v1h-3zM605 300h2v1h-2zM1085 97h2v1h-2zM1100 97h2v1h-2zM244 384h3v1h-3zM1074 104h2v1h-2zM214 396h2v1h-2zM734 266h2v1h-2zM324 349h3v1h-3zM379 329h2v1h-2zM1025 136h2v1h-2zM179 403h3v1h-3zM346 342h4v1h-4zM330 347h2v1h-2zM1030 132h2v1h-2zM1145 132h2v1h-2zM616 295h2v1h-2zM1060 111h3v1h-3zM283 365h2v1h-2zM335 345h4v1h-4zM1133 126h2v1h-2zM773 247h2v1h-2zM360 337h3v1h-3zM658 278h4v1h-4zM236 387h2v1h-2zM279 367h2v1h-2zM765 251h2v1h-2zM769 249h2v1h-2zM375 331h2v1h-2zM371 333h2v1h-2zM355 339h2v1h-2zM622 292h2v1h-2zM261 376h2v1h-2zM975 177h2v1h-2zM247 383h2v1h-2zM872 215h2v1h-2zM810 240h2v1h-2zM281 366h2v1h-2zM216 395h2v1h-2zM618 294h2v1h-2zM257 378h2v1h-2zM947 187h3v1h-3zM971 179h2v1h-2zM887 203h2v1h-2zM771 248h2v1h-2zM637 284h2v1h-2zM767 250h2v1h-2zM614 296h2v1h-2zM223 392h2v1h-2zM610 298h2v1h-2zM233 388h3v1h-3zM973 178h2v1h-2zM881 207h2v1h-2zM969 180h2v1h-2zM635 285h2v1h-2zM1027 135h1v1h-1zM634 286h1v1h-1zM1121 116h1v2h-1zM1015 145h1v1h-1zM1032 131h1v1h-1zM883 206h1v1h-1zM1076 103h1v1h-1zM1014 146h1v1h-1zM1170 155h1v1h-1zM1080 100h1v1h-1zM1012 148h1v1h-1zM1013 147h1v1h-1zM1166 151h1v1h-1zM1007 152h1v1h-1zM1155 139h1v1h-1zM1123 119h1v1h-1zM1151 135h1v1h-1zM998 161h1v1h-1zM1117 111h1v2h-1zM1006 153h1v2h-1zM996 163h1v1h-1zM1167 152h1v1h-1zM1118 113h1v1h-1zM1002 158h1v1h-1zM1163 148h1v1h-1zM1045 119h1v1h-1zM1108 102h1v1h-1zM1168 153h1v1h-1zM1162 146h1v2h-1zM1164 149h1v1h-1zM865 219h1v1h-1zM1158 142h1v1h-1zM1153 137h1v1h-1zM1154 138h1v1h-1zM994 165h1v1h-1zM877 211h1v1h-1zM1120 115h1v1h-1zM1140 130h1v1h-1zM1169 154h1v1h-1zM875 213h1v1h-1zM1128 122h1v1h-1zM992 167h1v1h-1zM876 212h1v1h-1zM1165 150h1v1h-1zM982 175h1v1h-1zM1110 104h1v1h-1zM1024 137h1v1h-1zM874 214h1v1h-1zM1171 156h1v1h-1zM1160 144h1v1h-1zM1112 106h1v1h-1zM1156 140h1v1h-1zM1011 149h1v1h-1zM1152 136h1v1h-1zM1119 114h1v1h-1zM1113 107h1v1h-1zM1109 103h1v1h-1zM1137 128h1v1h-1zM1043 121h1v1h-1zM1044 120h1v1h-1zM993 166h1v1h-1zM1159 143h1v1h-1zM1041 123h1v1h-1zM1042 122h1v1h-1zM991 168h1v1h-1zM756 256h1v1h-1zM999 160h1v1h-1zM986 172h1v1h-1zM1115 109h1v1h-1zM1132 125h1v1h-1zM1035 128h1v1h-1zM1116 110h1v1h-1zM985 173h1v1h-1zM890 201h1v1h-1zM990 169h1v1h-1zM1111 105h1v1h-1zM1104 99h1v1h-1zM1028 134h1v1h-1zM1034 129h1v1h-1zM1017 143h1v1h-1zM1018 142h1v1h-1zM1161 145h1v1h-1zM989 170h1v1h-1zM1023 138h1v1h-1zM285 364h1v1h-1zM1073 105h1v1h-1zM1157 141h1v1h-1zM1016 144h1v1h-1zM1021 140h1v1h-1zM878 210h1v1h-1zM1077 102h1v1h-1zM747 260h1v1h-1zM1114 108h1v1h-1zM1005 155h1v1h-1zM1008 151h1v1h-1zM1122 118h1v1h-1zM1003 157h1v1h-1zM1004 156h1v1h-1zM1129 123h1v1h-1zM1040 124h1v1h-1zM894 198h1v1h-1zM997 162h1v1h-1zM1033 130h1v1h-1zM1038 126h1v1h-1zM278 368h1v1h-1zM1039 125h1v1h-1zM1022 139h1v1h-1zM893 199h1v1h-1zM995 164h1v1h-1zM1105 100h1v1h-1zM879 209h1v1h-1zM884 205h1v1h-1z"/>
<path fill="#e2e21c" shape-rendering="crispEdges" d="M630 255h15v1h-15zM711 255h2v1h-2zM255 357h3v1h-3zM758 225h19v1h-19zM665 264h8v1h-8zM673 265h24v1h-24zM955 157h2v1h-2zM1094 61h2v1h-2zM1146 61h2v1h-2zM887 168h5v1h-5zM895 168h17v1h-17zM914 168h9v1h-9zM940 168h3v1h-3zM624 256h6v1h-6zM645 256h2v1h-2zM881 172h2v1h-2zM370 305h2v1h-2zM423 305h3v1h-3zM506 292h17v1h-17zM536 292h12v1h-12zM551 292h14v1h-14zM498 294h4v1h-4zM572 294h4v1h-4zM582 294h3v1h-3zM375 301h2v1h-2zM403 301h12v1h-12zM482 301h4v1h-4zM1081 63h4v1h-4zM1044 68h9v1h-9zM729 238h6v1h-6zM492 296h2v1h-2zM425 306h3v1h-3zM438 306h15v1h-15zM415 302h3v1h-3zM480 302h2v1h-2zM928 170h10v1h-10zM1053 69h3v1h-3zM302 334h24v1h-24zM494 295h4v1h-4zM576 295h6v1h-6zM753 227h2v1h-2zM779 227h5v1h-5zM787 227h13v1h-13zM803 227h9v1h-9zM949 162h2v1h-2zM661 262h2v1h-2zM358 315h2v1h-2zM129 399h9v1h-9zM1003 111h2v1h-2zM418 303h3v1h-3zM478 303h2v1h-2zM697 266h4v1h-4zM600 279h2v1h-2zM522 291h14v1h-14zM653 259h3v1h-3zM706 259h2v1h-2zM232 368h2v1h-2zM141 397h2v1h-2zM165 397h14v1h-14zM221 377h2v1h-2zM114 403h4v1h-4zM999 113h2v1h-2zM1185 142h2v1h-2zM378 299h11v1h-11zM394 299h7v1h-7zM487 299h2v1h-2zM1062 71h3v1h-3zM1072 71h2v1h-2zM656 260h2v1h-2zM502 293h4v1h-4zM548 293h3v1h-3zM565 293h7v1h-7zM585 293h2v1h-2zM622 257h2v1h-2zM647 257h3v1h-3zM755 226h3v1h-3zM777 226h2v1h-2zM784 226h4v1h-4zM118 402h4v1h-4zM100 405h9v1h-9zM192 390h5v1h-5zM1129 54h8v1h-8zM1122 50h2v1h-2zM456 308h18v1h-18zM1109 46h4v1h-4zM1114 46h5v1h-5zM274 342h3v1h-3zM1177 140h2v1h-2zM1188 140h5v1h-5zM428 307h10v1h-10zM453 307h3v1h-3zM473 307h2v1h-2zM1085 62h9v1h-9zM1065 72h7v1h-7zM145 395h16v1h-16zM181 395h2v1h-2zM658 261h3v1h-3zM1056 70h6v1h-6zM126 400h3v1h-3zM287 335h15v1h-15zM1140 57h2v1h-2zM816 230h2v1h-2zM751 228h2v1h-2zM800 228h3v1h-3zM812 228h2v1h-2zM663 263h2v1h-2zM847 200h2v1h-2zM197 389h9v1h-9zM740 235h2v1h-2zM968 143h2v1h-2zM1008 109h10v1h-10zM211 385h2v1h-2zM1138 56h2v1h-2zM270 344h2v1h-2zM248 358h7v1h-7zM208 387h2v1h-2zM238 365h2v1h-2zM189 391h3v1h-3zM284 337h2v1h-2zM109 404h5v1h-5zM1021 105h2v1h-2zM281 339h2v1h-2zM862 188h2v1h-2zM855 193h2v1h-2zM745 232h2v1h-2zM329 330h11v1h-11zM735 237h3v1h-3zM866 185h3v1h-3zM859 190h2v1h-2zM605 275h2v1h-2zM246 359h2v1h-2zM96 406h4v1h-4zM234 367h2v1h-2zM1005 110h3v1h-3zM389 300h5v1h-5zM401 300h2v1h-2zM963 148h2v1h-2zM185 393h2v1h-2zM143 396h2v1h-2zM161 396h4v1h-4zM179 396h2v1h-2zM727 241h2v1h-2zM122 401h4v1h-4zM277 341h2v1h-2zM490 297h2v1h-2zM353 319h2v1h-2zM1179 141h6v1h-6zM997 114h2v1h-2zM1167 114h2v1h-2zM650 258h3v1h-3zM1106 48h2v1h-2zM742 234h2v1h-2zM966 144h2v1h-2zM138 398h3v1h-3zM885 169h2v1h-2zM892 169h3v1h-3zM912 169h2v1h-2zM923 169h5v1h-5zM938 169h2v1h-2zM1001 112h2v1h-2zM272 343h2v1h-2zM344 327h2v1h-2zM206 388h2v1h-2zM217 380h2v1h-2zM421 304h2v1h-2zM738 236h2v1h-2zM869 184h2v1h-2zM1126 53h3v1h-3zM340 329h2v1h-2zM236 366h2v1h-2zM1143 59h2v1h-2zM241 363h2v1h-2zM187 392h2v1h-2zM279 340h2v1h-2zM865 186h2v1h-2zM749 229h2v1h-2zM814 229h2v1h-2zM363 311h2v1h-2zM841 205h2v1h-2zM183 394h2v1h-2zM229 370h2v1h-2zM723 245h2v1h-2zM342 328h2v1h-2zM851 196h3v1h-3zM714 253h2v1h-2zM944 166h2v1h-2zM589 290h2v1h-2zM873 179h2v1h-2zM612 267h1v2h-1zM1096 60h1v1h-1zM1149 63h1v1h-1zM722 246h1v1h-1zM872 181h1v1h-1zM980 131h1v2h-1zM1160 87h1v4h-1zM355 318h1v1h-1zM1035 85h1v2h-1zM1153 68h1v2h-1zM1027 99h1v2h-1zM861 189h1v1h-1zM228 371h1v1h-1zM1174 136h1v2h-1zM1163 97h1v4h-1zM995 116h1v1h-1zM964 147h1v1h-1zM1164 101h1v3h-1zM1145 60h1v1h-1zM604 276h1v1h-1zM817 231h1v1h-1zM837 209h1v1h-1zM1108 47h1v1h-1zM225 374h1v1h-1zM595 284h1v2h-1zM992 119h1v1h-1zM983 128h1v1h-1zM619 260h1v1h-1zM588 291h1v1h-1zM726 242h1v2h-1zM263 351h1v1h-1zM1156 74h1v3h-1zM283 338h1v1h-1zM592 288h1v1h-1zM1169 119h1v3h-1zM825 221h1v1h-1zM953 159h1v1h-1zM883 171h1v1h-1zM1076 68h1v1h-1zM748 230h1v1h-1zM876 177h1v1h-1zM717 251h1v1h-1zM1018 108h1v1h-1zM975 137h1v1h-1zM611 269h1v1h-1zM1137 55h1v1h-1zM328 331h1v1h-1zM1166 108h1v4h-1zM1152 67h1v1h-1zM1155 72h1v2h-1zM963 149h1v1h-1zM1100 56h1v1h-1zM832 214h1v1h-1zM1173 133h1v3h-1zM476 305h1v1h-1zM987 124h1v1h-1zM243 362h1v1h-1zM947 164h1v1h-1zM374 302h1v1h-1zM258 356h1v1h-1zM1119 47h1v1h-1zM1159 83h1v4h-1zM1172 129h1v4h-1zM1080 64h1v1h-1zM602 278h1v1h-1zM350 322h1v1h-1zM93 409h1v1h-1zM871 182h1v1h-1zM990 121h1v1h-1zM701 265h1v1h-1zM1151 65h1v2h-1zM326 333h1v1h-1zM1103 52h1v1h-1zM227 372h1v1h-1zM216 381h1v1h-1zM951 161h1v1h-1zM614 265h1v1h-1zM265 349h1v1h-1zM1098 58h1v1h-1zM836 210h1v1h-1zM1158 80h1v3h-1zM361 313h1v1h-1zM594 286h1v1h-1zM721 247h1v1h-1zM979 133h1v1h-1zM365 310h1v1h-1zM970 142h1v1h-1zM1165 104h1v4h-1zM878 175h1v1h-1zM1032 90h1v2h-1zM1125 52h1v1h-1zM708 258h1v1h-1zM824 222h1v1h-1zM1020 106h1v1h-1zM1175 138h1v1h-1zM1075 69h1v1h-1zM850 198h1v1h-1zM231 369h1v1h-1zM839 207h1v1h-1zM1168 115h1v4h-1zM1176 139h1v1h-1zM994 117h1v1h-1zM854 195h1v1h-1zM843 204h1v1h-1zM958 154h1v2h-1zM985 126h1v1h-1zM621 258h1v1h-1zM372 304h1v1h-1zM728 239h1v2h-1zM827 219h1v1h-1zM982 129h1v1h-1zM1078 66h1v1h-1zM1161 91h1v3h-1zM1124 51h1v1h-1zM260 354h1v1h-1zM747 231h1v1h-1zM1024 103h1v1h-1zM475 306h1v1h-1zM1040 75h1v2h-1zM716 252h1v1h-1zM974 138h1v1h-1zM352 320h1v1h-1zM819 228h1v1h-1zM608 273h1v1h-1zM1120 48h1v1h-1zM597 282h1v1h-1zM703 263h1v1h-1zM1039 77h1v2h-1zM1121 49h1v1h-1zM1171 125h1v4h-1zM834 212h1v1h-1zM962 150h1v1h-1zM989 122h1v1h-1zM977 135h1v1h-1zM616 263h1v1h-1zM957 156h1v1h-1zM946 165h1v1h-1zM1142 58h1v1h-1zM822 224h1v1h-1zM356 317h1v1h-1zM1031 92h1v1h-1zM1157 77h1v3h-1zM95 407h1v1h-1zM360 314h1v1h-1zM873 180h1v1h-1zM1105 49h1v2h-1zM349 323h1v1h-1zM858 191h1v1h-1zM245 360h1v1h-1zM1170 122h1v3h-1zM845 202h1v1h-1zM267 347h1v1h-1zM838 208h1v1h-1zM1043 69h1v2h-1zM489 298h1v1h-1zM264 350h1v1h-1zM1097 59h1v1h-1zM829 217h1v1h-1zM367 308h1v1h-1zM972 140h1v1h-1zM710 256h1v1h-1zM826 220h1v1h-1zM996 115h1v1h-1zM965 145h1v2h-1zM1167 112h1v2h-1zM1034 87h1v1h-1zM1077 67h1v1h-1zM849 199h1v1h-1zM821 225h1v2h-1zM960 152h1v1h-1zM599 280h1v1h-1zM1038 79h1v2h-1zM220 378h1v1h-1zM984 127h1v1h-1zM1030 93h1v2h-1zM603 277h1v1h-1zM224 375h1v1h-1zM880 173h1v1h-1zM213 384h1v1h-1zM477 304h1v1h-1zM884 170h1v1h-1zM1162 94h1v3h-1zM587 292h1v1h-1zM725 244h1v1h-1zM262 352h1v1h-1zM833 213h1v1h-1zM1026 101h1v1h-1zM347 325h1v1h-1zM718 250h1v1h-1zM286 336h1v1h-1zM1019 107h1v1h-1zM1042 71h1v2h-1zM976 136h1v1h-1zM615 264h1v1h-1zM610 270h1v2h-1zM864 187h1v1h-1zM991 120h1v1h-1zM607 274h1v1h-1zM240 364h1v1h-1zM327 332h1v1h-1zM591 289h1v1h-1zM618 261h1v1h-1zM269 345h1v1h-1zM948 163h1v1h-1zM1099 57h1v1h-1zM1037 81h1v2h-1zM259 355h1v1h-1zM875 178h1v1h-1zM369 306h1v1h-1zM952 160h1v1h-1zM1148 62h1v1h-1zM362 312h1v1h-1zM351 321h1v1h-1zM828 218h1v1h-1zM1033 88h1v2h-1zM1079 65h1v1h-1zM744 233h1v1h-1zM702 264h1v1h-1zM705 260h1v1h-1zM971 141h1v1h-1zM1029 95h1v2h-1zM840 206h1v1h-1zM266 348h1v1h-1zM831 215h1v1h-1zM373 303h1v1h-1zM215 382h1v1h-1zM959 153h1v1h-1zM377 300h1v1h-1zM366 309h1v1h-1zM613 266h1v1h-1zM879 174h1v1h-1zM720 248h1v1h-1zM709 257h1v1h-1zM1041 73h1v2h-1zM870 183h1v1h-1zM978 134h1v1h-1zM851 197h1v1h-1zM713 254h1v1h-1zM1025 102h1v1h-1zM820 227h1v1h-1zM1102 53h1v1h-1zM346 326h1v1h-1zM855 194h1v1h-1zM844 203h1v1h-1zM598 281h1v1h-1zM986 125h1v1h-1zM219 379h1v1h-1zM223 376h1v1h-1zM1187 141h1v1h-1zM620 259h1v1h-1zM261 353h1v1h-1zM1028 97h1v2h-1zM954 158h1v1h-1zM943 167h1v1h-1zM486 300h1v1h-1zM1074 70h1v1h-1zM226 373h1v1h-1zM609 272h1v1h-1zM993 118h1v1h-1zM357 316h1v1h-1zM704 261h1v2h-1zM1154 70h1v2h-1zM835 211h1v1h-1zM593 287h1v1h-1zM596 283h1v1h-1zM981 130h1v1h-1zM617 262h1v1h-1zM268 346h1v1h-1zM1101 54h1v2h-1zM1036 83h1v2h-1zM1113 47h1v1h-1zM877 176h1v1h-1zM823 223h1v1h-1zM210 386h1v1h-1zM1023 104h1v1h-1zM818 229h1v1h-1zM1150 64h1v1h-1zM973 139h1v1h-1zM94 408h1v1h-1zM1104 51h1v1h-1zM348 324h1v1h-1zM857 192h1v1h-1zM719 249h1v1h-1zM846 201h1v1h-1zM988 123h1v1h-1zM244 361h1v1h-1zM961 151h1v1h-1zM830 216h1v1h-1zM214 383h1v1h-1zM368 307h1v1h-1z"/>
<path fill="#e632e6" shape-rendering="crispEdges" d="M516 319h5v1h-5zM588 319h2v1h-2zM251 405h2v1h-2zM671 287h5v1h-5zM695 287h7v1h-7zM752 287h2v1h-2zM798 255h5v1h-5zM837 255h2v1h-2zM852 255h4v1h-4zM943 210h6v1h-6zM996 210h2v1h-2zM93 427h3v1h-3zM102 427h4v1h-4zM169 411h10v1h-10zM189 411h6v1h-6zM222 411h2v1h-2zM228 411h5v1h-5zM669 288h3v1h-3zM676 288h19v1h-19zM702 288h3v1h-3zM750 288h2v1h-2zM315 372h2v1h-2zM905 220h5v1h-5zM976 220h10v1h-10zM133 423h15v1h-15zM412 332h2v1h-2zM512 320h4v1h-4zM590 320h2v1h-2zM539 315h14v1h-14zM1016 181h2v1h-2zM803 254h7v1h-7zM835 254h2v1h-2zM856 254h8v1h-8zM794 256h4v1h-4zM839 256h13v1h-13zM435 322h28v1h-28zM506 322h3v1h-3zM594 322h2v1h-2zM420 327h2v1h-2zM605 327h7v1h-7zM622 327h2v1h-2zM910 219h2v1h-2zM968 219h8v1h-8zM198 409h22v1h-22zM238 409h5v1h-5zM1083 135h2v1h-2zM535 317h2v1h-2zM555 317h5v1h-5zM935 211h8v1h-8zM949 211h3v1h-3zM463 321h13v1h-13zM509 321h3v1h-3zM592 321h2v1h-2zM631 321h2v1h-2zM719 295h2v1h-2zM732 295h2v1h-2zM912 218h3v1h-3zM966 218h2v1h-2zM395 346h2v1h-2zM312 374h2v1h-2zM109 425h13v1h-13zM179 410h10v1h-10zM195 410h3v1h-3zM220 410h2v1h-2zM233 410h5v1h-5zM388 351h2v1h-2zM787 258h3v1h-3zM521 318h14v1h-14zM560 318h28v1h-28zM96 428h6v1h-6zM1136 200h2v1h-2zM1191 180h3v1h-3zM425 324h2v1h-2zM481 324h8v1h-8zM498 324h5v1h-5zM597 324h3v1h-3zM1189 179h2v1h-2zM422 325h3v1h-3zM489 325h3v1h-3zM495 325h3v1h-3zM600 325h2v1h-2zM1067 144h2v1h-2zM919 216h4v1h-4zM962 216h2v1h-2zM380 356h2v1h-2zM881 243h2v1h-2zM262 401h8v1h-8zM492 326h3v1h-3zM602 326h3v1h-3zM624 326h2v1h-2zM713 293h3v1h-3zM735 293h7v1h-7zM336 359h7v1h-7zM349 359h11v1h-11zM375 359h2v1h-2zM1035 170h6v1h-6zM1042 170h4v1h-4zM247 407h2v1h-2zM709 291h2v1h-2zM744 291h2v1h-2zM537 316h3v1h-3zM552 316h3v1h-3zM343 358h6v1h-6zM377 358h2v1h-2zM929 213h3v1h-3zM955 213h2v1h-2zM992 213h2v1h-2zM427 323h8v1h-8zM477 323h4v1h-4zM502 323h4v1h-4zM596 323h2v1h-2zM628 323h2v1h-2zM1147 206h7v1h-7zM283 392h2v1h-2zM253 404h3v1h-3zM287 389h2v1h-2zM1070 142h2v1h-2zM1026 171h7v1h-7zM1034 171h2v1h-2zM308 376h2v1h-2zM903 221h2v1h-2zM299 381h2v1h-2zM360 360h3v1h-3zM374 360h2v1h-2zM932 212h3v1h-3zM952 212h3v1h-3zM1143 204h2v1h-2zM1156 204h2v1h-2zM363 361h4v1h-4zM372 361h2v1h-2zM161 416h2v1h-2zM326 366h4v1h-4zM612 328h10v1h-10zM122 424h11v1h-11zM825 250h2v1h-2zM869 250h2v1h-2zM927 214h2v1h-2zM957 214h3v1h-3zM991 214h2v1h-2zM664 290h3v1h-3zM706 290h3v1h-3zM158 418h2v1h-2zM106 426h3v1h-3zM770 272h2v1h-2zM275 397h2v1h-2zM651 301h2v1h-2zM915 217h4v1h-4zM964 217h2v1h-2zM280 394h2v1h-2zM272 399h2v1h-2zM721 296h8v1h-8zM730 296h2v1h-2zM1175 174h7v1h-7zM249 406h2v1h-2zM304 378h2v1h-2zM296 383h2v1h-2zM409 333h3v1h-3zM1182 175h3v1h-3zM1091 129h5v1h-5zM321 368h2v1h-2zM815 247h6v1h-6zM415 330h2v1h-2zM310 375h2v1h-2zM1185 176h2v1h-2zM154 420h3v1h-3zM667 289h2v1h-2zM704 289h2v1h-2zM747 289h3v1h-3zM1111 164h2v1h-2zM258 402h4v1h-4zM1141 203h2v1h-2zM661 292h2v1h-2zM711 292h2v1h-2zM742 292h2v1h-2zM243 408h4v1h-4zM765 276h2v1h-2zM923 215h4v1h-4zM960 215h2v1h-2zM367 362h6v1h-6zM716 294h3v1h-3zM1081 136h2v1h-2zM318 370h2v1h-2zM1072 141h2v1h-2zM306 377h2v1h-2zM785 259h2v1h-2zM148 422h3v1h-3zM1077 138h2v1h-2zM256 403h2v1h-2zM1089 130h2v1h-2zM164 414h2v1h-2zM387 352h2v1h-2zM829 252h3v1h-3zM866 252h2v1h-2zM790 257h4v1h-4zM391 349h2v1h-2zM772 271h2v1h-2zM383 354h2v1h-2zM827 251h2v1h-2zM880 244h2v1h-2zM1145 205h2v1h-2zM1154 205h2v1h-2zM823 249h2v1h-2zM871 249h4v1h-4zM167 412h2v1h-2zM224 412h4v1h-4zM821 248h2v1h-2zM875 248h2v1h-2zM290 387h2v1h-2zM1139 202h2v1h-2zM759 282h2v1h-2zM302 379h2v1h-2zM1075 139h2v1h-2zM417 329h2v1h-2zM151 421h3v1h-3zM1079 137h2v1h-2zM323 367h3v1h-3zM783 260h2v1h-2zM832 253h3v1h-3zM864 253h2v1h-2zM385 353h2v1h-2zM270 400h2v1h-2zM1169 182h2v1h-2zM277 396h2v1h-2zM894 230h2v1h-2zM293 385h2v1h-2zM775 268h2v1h-2zM755 285h2v1h-2zM407 334h2v1h-2zM986 219h1v1h-1zM646 306h1v1h-1zM285 391h1v1h-1zM1049 165h1v1h-1zM1107 154h1v2h-1zM1130 193h1v2h-1zM1064 147h1v1h-1zM1021 176h1v1h-1zM1065 146h1v1h-1zM298 382h1v1h-1zM644 308h1v1h-1zM878 246h1v1h-1zM1114 169h1v1h-1zM422 326h1v1h-1zM289 388h1v1h-1zM902 222h1v1h-1zM1117 174h1v2h-1zM1060 152h1v1h-1zM1015 183h1v3h-1zM1061 151h1v1h-1zM1063 148h1v2h-1zM414 331h1v1h-1zM1020 177h1v1h-1zM1101 140h1v2h-1zM1098 133h1v2h-1zM635 317h1v1h-1zM320 369h1v1h-1zM1009 194h1v2h-1zM1110 161h1v2h-1zM1007 197h1v2h-1zM900 224h1v1h-1zM1057 156h1v1h-1zM335 360h1v1h-1zM1059 153h1v2h-1zM1016 182h1v1h-1zM1105 149h1v2h-1zM403 338h1v2h-1zM1102 142h1v3h-1zM1005 200h1v2h-1zM1087 132h1v1h-1zM1115 170h1v2h-1zM634 318h1v2h-1zM1008 196h1v1h-1zM1006 199h1v1h-1zM1162 198h1v2h-1zM1055 158h1v2h-1zM379 357h1v1h-1zM811 251h1v2h-1zM899 225h1v1h-1zM1166 190h1v3h-1zM1111 163h1v1h-1zM777 266h1v1h-1zM402 340h1v1h-1zM1119 178h1v2h-1zM1002 204h1v1h-1zM1128 191h1v1h-1zM1138 201h1v1h-1zM1122 183h1v2h-1zM163 415h1v1h-1zM1118 176h1v2h-1zM776 267h1v1h-1zM627 324h1v1h-1zM1014 186h1v2h-1zM1099 135h1v2h-1zM1106 151h1v3h-1zM1000 206h1v1h-1zM1108 156h1v3h-1zM333 362h1v1h-1zM390 350h1v1h-1zM1123 185h1v2h-1zM1171 179h1v2h-1zM1012 189h1v2h-1zM660 293h1v1h-1zM1164 195h1v2h-1zM1172 177h1v2h-1zM1100 137h1v3h-1zM1112 165h1v2h-1zM769 273h1v1h-1zM1022 175h1v1h-1zM476 322h1v1h-1zM331 364h1v1h-1zM879 245h1v1h-1zM1097 131h1v2h-1zM884 241h1v1h-1zM885 240h1v1h-1zM658 295h1v1h-1zM767 275h1v1h-1zM1048 166h1v1h-1zM1096 130h1v1h-1zM1069 143h1v1h-1zM1103 145h1v2h-1zM1116 172h1v2h-1zM883 242h1v1h-1zM901 223h1v1h-1zM643 309h1v1h-1zM765 277h1v1h-1zM1047 167h1v1h-1zM1113 167h1v2h-1zM406 335h1v1h-1zM995 211h1v1h-1zM1168 185h1v3h-1zM1019 178h1v1h-1zM1169 183h1v2h-1zM1088 131h1v1h-1zM642 310h1v1h-1zM1046 168h1v2h-1zM1120 180h1v2h-1zM279 395h1v1h-1zM1017 180h1v1h-1zM1104 147h1v2h-1zM1018 179h1v1h-1zM640 312h1v1h-1zM641 311h1v1h-1zM648 304h1v1h-1zM1121 182h1v1h-1zM813 249h1v1h-1zM814 248h1v1h-1zM334 361h1v1h-1zM382 355h1v1h-1zM626 325h1v1h-1zM894 231h1v1h-1zM419 328h1v1h-1zM782 261h1v1h-1zM314 373h1v1h-1zM897 227h1v1h-1zM1160 201h1v1h-1zM810 253h1v1h-1zM812 250h1v1h-1zM734 294h1v1h-1zM400 342h1v1h-1zM1167 188h1v2h-1zM332 363h1v1h-1zM166 413h1v1h-1zM394 347h1v1h-1zM1033 172h1v1h-1zM659 294h1v1h-1zM893 232h1v1h-1zM630 322h1v1h-1zM895 229h1v1h-1zM1158 203h1v1h-1zM768 274h1v1h-1zM868 251h1v1h-1zM1174 175h1v1h-1zM398 344h1v1h-1zM653 300h1v1h-1zM657 296h1v1h-1zM998 208h1v2h-1zM891 234h1v1h-1zM663 291h1v1h-1zM892 233h1v1h-1zM1165 193h1v2h-1zM1058 155h1v1h-1zM1133 197h1v1h-1zM1187 177h1v1h-1zM1004 202h1v1h-1zM877 247h1v1h-1zM650 302h1v1h-1zM754 286h1v1h-1zM1054 160h1v1h-1zM1109 159h1v2h-1zM301 380h1v1h-1zM649 303h1v1h-1zM990 215h1v1h-1zM774 270h1v1h-1zM292 386h1v1h-1zM1010 193h1v1h-1zM758 283h1v1h-1zM1041 171h1v1h-1zM1011 191h1v2h-1zM764 278h1v1h-1zM1024 173h1v1h-1zM1134 198h1v1h-1zM1025 172h1v1h-1zM1188 178h1v1h-1zM405 336h1v1h-1zM988 217h1v1h-1zM1086 133h1v1h-1zM989 216h1v1h-1zM994 212h1v1h-1zM1170 181h1v1h-1zM1161 200h1v1h-1zM1163 197h1v1h-1zM762 280h1v1h-1zM1074 140h1v1h-1zM757 284h1v1h-1zM898 226h1v1h-1zM282 393h1v1h-1zM1066 145h1v1h-1zM1135 199h1v1h-1zM401 341h1v1h-1zM1129 192h1v1h-1zM274 398h1v1h-1zM987 218h1v1h-1zM404 337h1v1h-1zM1124 187h1v1h-1zM1085 134h1v1h-1zM1159 202h1v1h-1zM638 314h1v1h-1zM639 313h1v1h-1zM1131 195h1v1h-1zM896 228h1v1h-1zM295 384h1v1h-1zM1062 150h1v1h-1zM1125 188h1v1h-1zM399 343h1v1h-1zM286 390h1v1h-1zM157 419h1v1h-1zM636 316h1v1h-1zM637 315h1v1h-1zM780 263h1v1h-1zM1173 176h1v1h-1zM781 262h1v1h-1zM1126 189h1v1h-1zM317 371h1v1h-1zM729 297h1v1h-1zM330 365h1v1h-1zM393 348h1v1h-1zM633 320h1v1h-1zM778 265h1v1h-1zM1132 196h1v1h-1zM779 264h1v1h-1zM1003 203h1v1h-1zM397 345h1v1h-1zM160 417h1v1h-1zM655 298h1v1h-1zM775 269h1v1h-1zM889 236h1v1h-1zM656 297h1v1h-1zM890 235h1v1h-1zM1127 190h1v1h-1zM1056 157h1v1h-1zM654 299h1v1h-1zM887 238h1v1h-1zM888 237h1v1h-1zM763 279h1v1h-1zM1052 162h1v1h-1zM1053 161h1v1h-1zM746 290h1v1h-1zM886 239h1v1h-1zM761 281h1v1h-1zM1001 205h1v1h-1zM647 305h1v1h-1zM1050 164h1v1h-1zM1051 163h1v1h-1zM1013 188h1v1h-1zM999 207h1v1h-1zM1023 174h1v1h-1zM645 307h1v1h-1z"/>
<path fill="#f2f2f2" shape-rendering="crispEdges" d="M213 528h2v1h-2zM422 528h2v1h-2zM492 528h2v1h-2zM507 528h2v1h-2zM652 528h2v1h-2zM802 528h2v1h-2zM809 528h6v1h-6zM921 528h3v1h-3zM141 535h16v1h-16zM167 535h5v1h-5zM181 535h3v1h-3zM459 535h5v1h-5zM473 535h3v1h-3zM528 535h2v1h-2zM669 535h5v1h-5zM692 535h8v1h-8zM235 518h7v1h-7zM319 518h4v1h-4zM326 518h2v1h-2zM407 518h2v1h-2zM722 518h2v1h-2zM736 518h7v1h-7zM122 537h16v1h-16zM467 537h4v1h-4zM532 537h2v1h-2zM677 537h2v1h-2zM687 537h3v1h-3zM228 520h3v1h-3zM410 520h2v1h-2zM719 520h2v1h-2zM787 520h2v1h-2zM211 529h2v1h-2zM424 529h3v1h-3zM489 529h3v1h-3zM509 529h3v1h-3zM654 529h2v1h-2zM705 529h2v1h-2zM804 529h5v1h-5zM924 529h2v1h-2zM266 510h2v1h-2zM354 510h3v1h-3zM843 510h4v1h-4zM1034 477h2v1h-2zM221 524h2v1h-2zM416 524h2v1h-2zM602 524h2v1h-2zM713 524h2v1h-2zM794 524h3v1h-3zM820 524h2v1h-2zM246 515h5v1h-5zM308 515h3v1h-3zM332 515h16v1h-16zM400 515h3v1h-3zM628 515h9v1h-9zM726 515h2v1h-2zM747 515h4v1h-4zM770 515h3v1h-3zM268 509h9v1h-9zM357 509h3v1h-3zM384 509h2v1h-2zM847 509h6v1h-6zM854 509h5v1h-5zM960 509h2v1h-2zM1150 579h2v1h-2zM1167 579h3v1h-3zM1188 579h2v1h-2zM283 506h2v1h-2zM291 506h2v1h-2zM365 506h9v1h-9zM868 506h2v1h-2zM300 512h3v1h-3zM389 512h2v1h-2zM620 512h4v1h-4zM756 512h9v1h-9zM838 512h2v1h-2zM187 533h5v1h-5zM452 533h3v1h-3zM478 533h3v1h-3zM520 533h7v1h-7zM664 533h3v1h-3zM192 532h15v1h-15zM432 532h7v1h-7zM442 532h10v1h-10zM481 532h3v1h-3zM517 532h3v1h-3zM662 532h2v1h-2zM929 532h4v1h-4zM934 532h4v1h-4zM209 530h2v1h-2zM427 530h4v1h-4zM487 530h3v1h-3zM512 530h3v1h-3zM656 530h3v1h-3zM926 530h2v1h-2zM217 526h2v1h-2zM419 526h2v1h-2zM599 526h2v1h-2zM649 526h2v1h-2zM709 526h2v1h-2zM798 526h2v1h-2zM1164 580h3v1h-3zM1190 580h2v1h-2zM184 534h3v1h-3zM455 534h4v1h-4zM476 534h2v1h-2zM589 534h2v1h-2zM667 534h2v1h-2zM700 534h2v1h-2zM285 505h6v1h-6zM374 505h7v1h-7zM215 527h2v1h-2zM494 527h13v1h-13zM597 527h2v1h-2zM800 527h2v1h-2zM815 527h3v1h-3zM277 508h5v1h-5zM294 508h2v1h-2zM360 508h3v1h-3zM859 508h7v1h-7zM261 513h2v1h-2zM303 513h3v1h-3zM391 513h2v1h-2zM618 513h2v1h-2zM623 513h2v1h-2zM754 513h2v1h-2zM765 513h2v1h-2zM836 513h2v1h-2zM895 500h6v1h-6zM977 500h4v1h-4zM115 538h7v1h-7zM679 538h8v1h-8zM878 499h2v1h-2zM893 499h2v1h-2zM981 499h5v1h-5zM1063 499h2v1h-2zM207 531h2v1h-2zM430 531h2v1h-2zM439 531h3v1h-3zM484 531h3v1h-3zM515 531h3v1h-3zM659 531h3v1h-3zM551 547h2v1h-2zM569 547h3v1h-3zM875 501h2v1h-2zM900 501h2v1h-2zM971 501h6v1h-6zM1075 501h2v1h-2zM792 523h2v1h-2zM1012 488h3v1h-3zM1023 488h3v1h-3zM1152 578h3v1h-3zM244 516h2v1h-2zM251 516h2v1h-2zM311 516h2v1h-2zM329 516h3v1h-3zM403 516h2v1h-2zM637 516h3v1h-3zM744 516h3v1h-3zM773 516h3v1h-3zM831 516h2v1h-2zM993 493h3v1h-3zM93 545h2v1h-2zM573 545h2v1h-2zM102 541h4v1h-4zM538 541h4v1h-4zM581 541h2v1h-2zM556 549h3v1h-3zM563 549h3v1h-3zM138 536h3v1h-3zM157 536h4v1h-4zM162 536h5v1h-5zM172 536h9v1h-9zM464 536h3v1h-3zM471 536h2v1h-2zM530 536h2v1h-2zM674 536h3v1h-3zM690 536h2v1h-2zM1175 575h9v1h-9zM884 496h5v1h-5zM988 496h2v1h-2zM1080 496h2v1h-2zM1089 496h2v1h-2zM1041 470h2v1h-2zM106 540h5v1h-5zM536 540h2v1h-2zM583 540h2v1h-2zM306 514h2v1h-2zM348 514h2v1h-2zM393 514h7v1h-7zM616 514h2v1h-2zM625 514h3v1h-3zM751 514h3v1h-3zM767 514h3v1h-3zM834 514h2v1h-2zM549 546h2v1h-2zM264 511h2v1h-2zM298 511h2v1h-2zM352 511h2v1h-2zM387 511h2v1h-2zM840 511h3v1h-3zM957 511h2v1h-2zM999 491h7v1h-7zM1006 490h3v1h-3zM242 517h2v1h-2zM253 517h5v1h-5zM313 517h6v1h-6zM405 517h2v1h-2zM733 517h3v1h-3zM776 517h9v1h-9zM829 517h2v1h-2zM226 521h2v1h-2zM411 521h2v1h-2zM607 521h3v1h-3zM824 521h2v1h-2zM1155 577h7v1h-7zM1171 577h2v1h-2zM553 548h3v1h-3zM565 548h4v1h-4zM871 504h2v1h-2zM965 504h2v1h-2zM1069 504h5v1h-5zM97 543h2v1h-2zM544 543h2v1h-2zM577 543h2v1h-2zM880 498h2v1h-2zM891 498h2v1h-2zM1009 489h3v1h-3zM1015 489h2v1h-2zM1018 489h5v1h-5zM967 503h2v1h-2zM882 497h2v1h-2zM889 497h2v1h-2zM1128 590h2v1h-2zM231 519h4v1h-4zM323 519h3v1h-3zM408 519h2v1h-2zM363 507h2v1h-2zM866 507h2v1h-2zM99 542h3v1h-3zM542 542h2v1h-2zM579 542h2v1h-2zM969 502h2v1h-2zM1066 502h2v1h-2zM1132 592h4v1h-4zM1126 589h2v1h-2zM1139 589h2v1h-2zM95 544h2v1h-2zM546 544h2v1h-2zM575 544h2v1h-2zM991 494h2v1h-2zM1084 494h4v1h-4zM224 522h2v1h-2zM413 522h2v1h-2zM605 522h2v1h-2zM716 522h2v1h-2zM790 522h2v1h-2zM1043 469h4v1h-4zM1082 495h2v1h-2zM559 550h4v1h-4zM111 539h4v1h-4zM219 525h2v1h-2zM711 525h2v1h-2zM996 492h3v1h-3zM1173 576h2v1h-2zM1184 576h2v1h-2zM1130 591h2v1h-2zM1136 591h2v1h-2zM643 520h1v1h-1zM1098 521h1v4h-1zM1095 509h1v4h-1zM950 518h1v1h-1zM908 511h1v2h-1zM1108 555h1v3h-1zM1101 532h1v3h-1zM904 504h1v2h-1zM912 518h1v1h-1zM1119 579h1v2h-1zM1141 588h1v1h-1zM1122 584h1v2h-1zM350 513h1v1h-1zM1102 535h1v3h-1zM905 506h1v2h-1zM612 518h1v1h-1zM938 530h1v1h-1zM919 526h1v1h-1zM604 523h1v1h-1zM1027 486h1v1h-1zM1187 578h1v1h-1zM1076 500h1v1h-1zM596 528h1v1h-1zM1105 545h1v3h-1zM702 532h1v2h-1zM725 516h1v1h-1zM1094 505h1v4h-1zM729 513h1v1h-1zM1056 489h1v2h-1zM907 510h1v1h-1zM911 516h1v2h-1zM1097 517h1v4h-1zM1057 491h1v1h-1zM1118 577h1v2h-1zM421 527h1v1h-1zM1030 482h1v1h-1zM1053 483h1v2h-1zM1050 476h1v3h-1zM945 523h1v1h-1zM1115 570h1v2h-1zM1104 542h1v3h-1zM1112 564h1v2h-1zM964 505h1v1h-1zM610 520h1v1h-1zM873 503h1v1h-1zM987 497h1v1h-1zM296 509h1v1h-1zM1163 579h1v1h-1zM1033 478h1v1h-1zM961 508h1v1h-1zM1075 502h1v1h-1zM1148 581h1v1h-1zM1125 588h1v1h-1zM1037 475h1v1h-1zM1145 584h1v1h-1zM383 508h1v1h-1zM644 521h1v1h-1zM877 500h1v1h-1zM591 533h1v1h-1zM645 522h1v1h-1zM910 515h1v1h-1zM1107 551h1v4h-1zM534 538h1v1h-1zM1052 481h1v2h-1zM1100 529h1v3h-1zM1060 494h1v2h-1zM1124 587h1v1h-1zM223 523h1v1h-1zM382 507h1v1h-1zM853 510h1v1h-1zM1096 513h1v4h-1zM928 531h1v1h-1zM1114 568h1v2h-1zM826 520h1v1h-1zM952 516h1v1h-1zM1117 574h1v3h-1zM724 517h1v1h-1zM1103 538h1v4h-1zM1143 586h1v1h-1zM1029 483h1v2h-1zM789 521h1v1h-1zM614 516h1v1h-1zM940 528h1v1h-1zM1055 487h1v2h-1zM743 517h1v1h-1zM1078 498h1v1h-1zM1058 492h1v1h-1zM1040 471h1v2h-1zM1051 479h1v2h-1zM1059 493h1v1h-1zM914 520h1v1h-1zM586 538h1v1h-1zM704 530h1v1h-1zM328 517h1v1h-1zM1113 566h1v2h-1zM708 527h1v1h-1zM728 514h1v1h-1zM963 506h1v1h-1zM1110 561h1v1h-1zM1032 479h1v2h-1zM1192 581h1v1h-1zM947 521h1v1h-1zM913 519h1v1h-1zM1093 502h1v3h-1zM1054 485h1v2h-1zM731 515h1v1h-1zM1106 548h1v3h-1zM1116 572h1v2h-1zM1099 525h1v4h-1zM651 527h1v1h-1zM1109 558h1v3h-1zM640 517h1v1h-1zM730 514h1v1h-1zM1039 473h1v1h-1zM828 518h1v1h-1zM1147 582h1v1h-1zM954 514h1v1h-1zM916 523h1v1h-1zM1062 497h1v1h-1zM593 531h1v1h-1zM259 515h1v1h-1zM942 526h1v1h-1zM282 507h1v1h-1zM293 507h1v1h-1zM263 512h1v1h-1zM986 498h1v1h-1zM601 525h1v1h-1zM297 510h1v1h-1zM718 521h1v1h-1zM646 523h1v1h-1zM1088 495h1v1h-1zM535 539h1v1h-1zM951 517h1v1h-1zM1061 496h1v1h-1zM1138 590h1v1h-1zM703 531h1v1h-1zM1142 587h1v1h-1zM949 519h1v1h-1zM1046 470h1v1h-1zM1068 503h1v1h-1zM939 529h1v1h-1zM418 525h1v1h-1zM870 505h1v1h-1zM588 535h1v2h-1zM915 521h1v2h-1zM611 519h1v1h-1zM937 531h1v1h-1zM874 502h1v1h-1zM527 534h1v1h-1zM1049 474h1v2h-1zM786 519h1v1h-1zM1111 562h1v2h-1zM797 525h1v1h-1zM1031 481h1v1h-1zM946 522h1v1h-1zM572 546h1v1h-1zM1026 487h1v1h-1zM595 529h1v1h-1zM732 516h1v1h-1zM933 533h1v1h-1zM592 532h1v1h-1zM1064 500h1v1h-1zM258 516h1v1h-1zM1149 580h1v1h-1zM819 525h1v1h-1zM956 512h1v1h-1zM1038 474h1v1h-1zM641 518h1v1h-1zM953 515h1v1h-1zM944 524h1v1h-1zM648 525h1v1h-1zM785 518h1v1h-1zM941 527h1v1h-1zM1063 498h1v1h-1zM161 537h1v1h-1zM918 525h1v1h-1zM823 522h1v1h-1zM1074 503h1v1h-1zM827 519h1v1h-1zM721 519h1v1h-1zM1017 490h1v1h-1zM587 537h1v1h-1zM1144 585h1v1h-1zM1121 582h1v2h-1zM917 524h1v1h-1zM1048 472h1v2h-1zM1090 497h1v1h-1zM1170 578h1v1h-1zM1028 485h1v1h-1zM990 495h1v1h-1zM1186 577h1v1h-1zM613 517h1v1h-1zM1077 499h1v1h-1zM548 545h1v1h-1zM1036 476h1v1h-1zM647 524h1v1h-1zM594 530h1v1h-1zM260 514h1v1h-1zM386 510h1v1h-1zM1162 578h1v1h-1zM1092 500h1v2h-1zM1120 581h1v1h-1zM715 523h1v1h-1zM903 503h1v1h-1zM833 515h1v1h-1zM351 512h1v1h-1zM948 520h1v1h-1zM1047 471h1v1h-1zM415 523h1v1h-1zM906 508h1v2h-1zM909 513h1v2h-1zM707 528h1v1h-1zM585 539h1v1h-1zM962 507h1v1h-1zM902 502h1v1h-1zM1091 498h1v2h-1zM818 526h1v1h-1zM955 513h1v1h-1zM381 506h1v1h-1zM1065 501h1v1h-1zM822 523h1v1h-1zM959 510h1v1h-1zM1146 583h1v1h-1zM943 525h1v1h-1zM1123 586h1v1h-1zM615 515h1v1h-1zM1079 497h1v1h-1zM920 527h1v1h-1zM642 519h1v1h-1z"/>
<path fill="#e2e21c" shape-rendering="crispEdges" d="M289 509h13v1h-13zM372 509h3v1h-3zM386 509h4v1h-4zM870 509h4v1h-4zM975 509h3v1h-3zM267 515h2v1h-2zM324 515h4v1h-4zM334 515h18v1h-18zM412 515h2v1h-2zM763 515h14v1h-14zM848 515h3v1h-3zM260 518h3v1h-3zM418 518h2v1h-2zM633 518h12v1h-12zM745 518h9v1h-9zM791 518h2v1h-2zM841 518h3v1h-3zM960 518h2v1h-2zM886 502h10v1h-10zM904 502h3v1h-3zM989 502h2v1h-2zM144 537h19v1h-19zM544 537h3v1h-3zM596 537h2v1h-2zM245 520h5v1h-5zM422 520h2v1h-2zM626 520h3v1h-3zM648 520h3v1h-3zM737 520h4v1h-4zM796 520h3v1h-3zM836 520h3v1h-3zM929 520h2v1h-2zM956 520h2v1h-2zM222 529h3v1h-3zM447 529h5v1h-5zM503 529h12v1h-12zM609 529h2v1h-2zM671 529h2v1h-2zM716 529h2v1h-2zM238 523h2v1h-2zM428 523h2v1h-2zM655 523h3v1h-3zM728 523h3v1h-3zM804 523h3v1h-3zM827 523h4v1h-4zM935 523h3v1h-3zM950 523h2v1h-2zM240 522h3v1h-3zM426 522h2v1h-2zM621 522h3v1h-3zM652 522h3v1h-3zM731 522h2v1h-2zM801 522h3v1h-3zM831 522h3v1h-3zM933 522h2v1h-2zM952 522h2v1h-2zM250 519h10v1h-10zM420 519h2v1h-2zM629 519h4v1h-4zM645 519h3v1h-3zM741 519h4v1h-4zM793 519h3v1h-3zM839 519h2v1h-2zM958 519h2v1h-2zM272 513h4v1h-4zM316 513h5v1h-5zM356 513h4v1h-4zM404 513h5v1h-5zM854 513h5v1h-5zM968 513h2v1h-2zM139 538h5v1h-5zM547 538h2v1h-2zM130 539h9v1h-9zM549 539h2v1h-2zM593 539h2v1h-2zM265 516h2v1h-2zM328 516h6v1h-6zM414 516h2v1h-2zM757 516h6v1h-6zM777 516h12v1h-12zM846 516h2v1h-2zM963 516h2v1h-2zM1034 486h2v1h-2zM1003 496h3v1h-3zM1081 496h11v1h-11zM280 511h6v1h-6zM308 511h4v1h-4zM363 511h4v1h-4zM396 511h4v1h-4zM863 511h4v1h-4zM971 511h2v1h-2zM163 536h25v1h-25zM540 536h4v1h-4zM100 546h3v1h-3zM570 546h9v1h-9zM219 530h3v1h-3zM452 530h7v1h-7zM499 530h4v1h-4zM515 530h10v1h-10zM608 530h2v1h-2zM673 530h2v1h-2zM713 530h3v1h-3zM103 545h3v1h-3zM564 545h6v1h-6zM579 545h2v1h-2zM269 514h3v1h-3zM321 514h3v1h-3zM352 514h4v1h-4zM409 514h3v1h-3zM851 514h3v1h-3zM921 514h2v1h-2zM966 514h2v1h-2zM212 532h4v1h-4zM463 532h4v1h-4zM489 532h7v1h-7zM528 532h3v1h-3zM604 532h2v1h-2zM679 532h3v1h-3zM708 532h3v1h-3zM286 510h3v1h-3zM302 510h6v1h-6zM367 510h5v1h-5zM390 510h6v1h-6zM867 510h3v1h-3zM916 510h2v1h-2zM973 510h2v1h-2zM1046 478h5v1h-5zM235 524h3v1h-3zM430 524h3v1h-3zM618 524h2v1h-2zM658 524h2v1h-2zM726 524h3v1h-3zM807 524h4v1h-4zM823 524h4v1h-4zM938 524h3v1h-3zM947 524h3v1h-3zM98 547h2v1h-2zM1017 492h5v1h-5zM1071 492h2v1h-2zM243 521h2v1h-2zM424 521h2v1h-2zM624 521h2v1h-2zM733 521h4v1h-4zM799 521h2v1h-2zM834 521h2v1h-2zM931 521h2v1h-2zM954 521h2v1h-2zM127 540h3v1h-3zM551 540h3v1h-3zM591 540h2v1h-2zM192 534h4v1h-4zM472 534h11v1h-11zM535 534h2v1h-2zM601 534h2v1h-2zM687 534h16v1h-16zM1140 577h2v1h-2zM1179 577h14v1h-14zM196 533h16v1h-16zM467 533h5v1h-5zM483 533h6v1h-6zM531 533h4v1h-4zM682 533h5v1h-5zM703 533h5v1h-5zM882 504h2v1h-2zM908 504h2v1h-2zM985 504h2v1h-2zM188 535h4v1h-4zM537 535h3v1h-3zM599 535h2v1h-2zM233 525h2v1h-2zM433 525h2v1h-2zM616 525h2v1h-2zM660 525h3v1h-3zM724 525h2v1h-2zM811 525h12v1h-12zM941 525h6v1h-6zM896 501h8v1h-8zM991 501h2v1h-2zM113 542h4v1h-4zM556 542h2v1h-2zM587 542h2v1h-2zM227 527h3v1h-3zM440 527h4v1h-4zM613 527h2v1h-2zM665 527h3v1h-3zM720 527h2v1h-2zM1142 578h9v1h-9zM1154 578h11v1h-11zM1172 578h7v1h-7zM878 506h2v1h-2zM982 506h2v1h-2zM1026 490h4v1h-4zM106 544h4v1h-4zM560 544h4v1h-4zM581 544h3v1h-3zM1005 495h4v1h-4zM1077 495h4v1h-4zM1053 480h2v1h-2zM1037 484h2v1h-2zM276 512h4v1h-4zM312 512h4v1h-4zM360 512h3v1h-3zM400 512h4v1h-4zM859 512h4v1h-4zM1031 488h2v1h-2zM1065 488h2v1h-2zM1009 494h4v1h-4zM1075 494h2v1h-2zM117 541h10v1h-10zM554 541h2v1h-2zM589 541h2v1h-2zM216 531h3v1h-3zM459 531h4v1h-4zM496 531h3v1h-3zM525 531h3v1h-3zM606 531h2v1h-2zM675 531h4v1h-4zM711 531h2v1h-2zM1040 482h2v1h-2zM1057 482h2v1h-2zM997 499h2v1h-2zM230 526h3v1h-3zM435 526h5v1h-5zM663 526h2v1h-2zM722 526h2v1h-2zM263 517h2v1h-2zM416 517h2v1h-2zM754 517h3v1h-3zM789 517h2v1h-2zM844 517h2v1h-2zM925 517h2v1h-2zM884 503h2v1h-2zM987 503h2v1h-2zM375 508h11v1h-11zM874 508h2v1h-2zM978 508h2v1h-2zM93 549h2v1h-2zM999 498h2v1h-2zM1151 579h3v1h-3zM1165 579h3v1h-3zM1169 579h3v1h-3zM225 528h2v1h-2zM444 528h3v1h-3zM611 528h2v1h-2zM668 528h3v1h-3zM718 528h2v1h-2zM1044 479h2v1h-2zM1051 479h2v1h-2zM1013 493h4v1h-4zM1073 493h2v1h-2zM880 505h2v1h-2zM993 500h4v1h-4zM1022 491h4v1h-4zM1069 491h2v1h-2zM110 543h3v1h-3zM558 543h2v1h-2zM584 543h3v1h-3zM876 507h2v1h-2zM912 507h2v1h-2zM980 507h2v1h-2zM1001 497h2v1h-2zM1092 497h2v1h-2zM1059 483h2v1h-2zM95 548h3v1h-3zM1055 481h2v1h-2zM1138 576h2v1h-2zM970 512h1v1h-1zM1134 572h1v1h-1zM1122 551h1v2h-1zM911 506h1v1h-1zM962 517h1v1h-1zM1062 485h1v1h-1zM1099 504h1v2h-1zM1106 518h1v2h-1zM1135 573h1v1h-1zM918 511h1v1h-1zM1113 533h1v2h-1zM920 513h1v1h-1zM1063 486h1v1h-1zM1120 547h1v2h-1zM1127 561h1v2h-1zM1136 574h1v1h-1zM1104 514h1v2h-1zM1111 529h1v2h-1zM907 503h1v1h-1zM1097 501h1v2h-1zM910 505h1v1h-1zM1118 543h1v2h-1zM1102 510h1v2h-1zM928 519h1v1h-1zM1125 557h1v2h-1zM1133 570h1v2h-1zM1109 524h1v2h-1zM1036 485h1v1h-1zM603 533h1v1h-1zM1061 484h1v1h-1zM1098 503h1v1h-1zM651 521h1v1h-1zM1123 553h1v2h-1zM1107 520h1v2h-1zM919 512h1v1h-1zM1039 483h1v1h-1zM1130 566h1v2h-1zM1030 489h1v1h-1zM1095 499h1v1h-1zM1103 512h1v2h-1zM1116 539h1v2h-1zM1042 481h1v1h-1zM1131 568h1v1h-1zM1100 506h1v2h-1zM1064 487h1v1h-1zM927 518h1v1h-1zM1110 526h1v3h-1zM1128 563h1v2h-1zM1114 535h1v2h-1zM1096 500h1v1h-1zM1168 580h1v1h-1zM1117 541h1v2h-1zM1124 555h1v2h-1zM1132 569h1v1h-1zM595 538h1v1h-1zM1101 508h1v2h-1zM1121 549h1v2h-1zM1105 516h1v2h-1zM598 536h1v1h-1zM1108 522h1v2h-1zM1115 537h1v2h-1zM1112 531h1v2h-1zM1119 545h1v2h-1zM965 515h1v1h-1zM1043 480h1v1h-1zM1094 498h1v1h-1zM1126 559h1v2h-1zM1129 565h1v1h-1zM620 523h1v1h-1zM924 516h1v1h-1zM1033 487h1v1h-1zM914 508h1v1h-1zM984 505h1v1h-1zM915 509h1v1h-1zM1067 489h1v1h-1zM1137 575h1v1h-1zM923 515h1v1h-1zM615 526h1v1h-1zM1068 490h1v1h-1z"/>
</svg>
<div class="b" style="left:1219px;top:110px;width:68px;height:16px;background:#000;"></div>
<div class="b" style="left:1218px;top:178px;width:69px;height:18px;background:#000;box-sizing:border-box;border:1px solid #f0a040;"></div>
<div class="b" style="left:1278px;top:170px;width:9px;height:9px;background:#000;"></div>
<div class="b" style="left:20px;top:617px;width:1268px;height:1px;background:#161616;"></div>
<div class="b" style="left:20px;top:446px;width:1268px;height:1px;background:#212121;"></div>
<div class="b" style="left:255px;top:619px;width:163px;height:16px;background:#000;"></div>
<div class="b" style="left:20px;top:638px;width:1268px;height:1px;background:#242424;"></div>
<div class="b" style="left:20px;top:653px;width:39px;height:1px;background:#0b0b0b;"></div>
<div class="t" style="top:53.82px;font-size:11.5px;color:#fff;font-family:'Liberation Serif';left:6.80px;transform:scaleX(0.7949);transform-origin:0 50%;">K</div>
<div class="t" style="top:1.47px;font-size:12.5px;color:#ff7410;left:152.60px;transform:scaleX(0.9784);transform-origin:0 50%;">240</div>
<div class="t" style="top:1.47px;font-size:12.5px;color:#f0f0f0;left:230.20px;transform:scaleX(0.9410);transform-origin:0 50%;">BOLL(20,2)</div>
<div class="t" style="top:1.47px;font-size:12.5px;color:#f0f0f0;left:295.90px;transform:scaleX(1.0017);transform-origin:0 50%;">MID:4094.34</div>
<div class="t" style="top:1.47px;font-size:12.5px;color:#cfcf22;left:376.50px;transform:scaleX(0.9147);transform-origin:0 50%;">UPPER:4154.01</div>
<div class="t" style="top:1.47px;font-size:12.5px;color:#e032e0;left:471.00px;transform:scaleX(0.9460);transform-origin:0 50%;">LOWER:4034.66</div>
<div class="t" style="top:448.67px;font-size:12.5px;color:#f0f0f0;left:93.00px;transform:scaleX(0.9719);transform-origin:0 50%;">MACD(26,12,9)</div>
<div class="t" style="top:448.67px;font-size:12.5px;color:#f0f0f0;left:183.70px;transform:scaleX(0.9192);transform-origin:0 50%;">DIFF:-30.62</div>
<div class="t" style="top:448.67px;font-size:12.5px;color:#cfcf22;left:255.00px;transform:scaleX(0.9441);transform-origin:0 50%;">DEA:-27.73</div>
<div class="t" style="top:448.67px;font-size:12.5px;color:#e032e0;left:326.00px;transform:scaleX(0.9742);transform-origin:0 50%;">MACD:-5.79</div>
<div class="t" style="top:12.77px;font-size:12.5px;color:#f0f0f0;right:1200.40px;text-align:right;">4507.00</div>
<div class="t" style="top:12.77px;font-size:12.5px;color:#f0f0f0;left:1221.50px;">4507.00</div>
<div class="t" style="top:72.77px;font-size:12.5px;color:#f0f0f0;right:1200.40px;text-align:right;">4327.65</div>
<div class="t" style="top:72.77px;font-size:12.5px;color:#f0f0f0;left:1221.50px;">4327.65</div>
<div class="t" style="top:133.77px;font-size:12.5px;color:#f0f0f0;right:1200.40px;text-align:right;">4148.30</div>
<div class="t" style="top:133.77px;font-size:12.5px;color:#f0f0f0;left:1221.50px;">4148.30</div>
<div class="t" style="top:194.77px;font-size:12.5px;color:#f0f0f0;right:1200.40px;text-align:right;">3968.95</div>
<div class="t" style="top:194.77px;font-size:12.5px;color:#f0f0f0;left:1221.50px;">3968.95</div>
<div class="t" style="top:254.77px;font-size:12.5px;color:#f0f0f0;right:1200.40px;text-align:right;">3789.60</div>
<div class="t" style="top:254.77px;font-size:12.5px;color:#f0f0f0;left:1221.50px;">3789.60</div>
<div class="t" style="top:315.77px;font-size:12.5px;color:#f0f0f0;right:1200.40px;text-align:right;">3610.25</div>
<div class="t" style="top:315.77px;font-size:12.5px;color:#f0f0f0;left:1221.50px;">3610.25</div>
<div class="t" style="top:376.77px;font-size:12.5px;color:#f0f0f0;right:1200.40px;text-align:right;">3430.90</div>
<div class="t" style="top:376.77px;font-size:12.5px;color:#f0f0f0;left:1221.50px;">3430.90</div>
<div class="t" style="top:459.77px;font-size:12.5px;color:#f0f0f0;right:1200.40px;text-align:right;">70.55</div>
<div class="t" style="top:459.77px;font-size:12.5px;color:#f0f0f0;left:1221.50px;">70.55</div>
<div class="t" style="top:484.77px;font-size:12.5px;color:#f0f0f0;right:1200.40px;text-align:right;">48.17</div>
<div class="t" style="top:484.77px;font-size:12.5px;color:#f0f0f0;left:1221.50px;">48.17</div>
<div class="t" style="top:509.77px;font-size:12.5px;color:#f0f0f0;right:1200.40px;text-align:right;">25.78</div>
<div class="t" style="top:509.77px;font-size:12.5px;color:#f0f0f0;left:1221.50px;">25.78</div>
<div class="t" style="top:534.77px;font-size:12.5px;color:#f0f0f0;right:1200.40px;text-align:right;">3.40</div>
<div class="t" style="top:534.77px;font-size:12.5px;color:#f0f0f0;left:1221.50px;">3.40</div>
<div class="t" style="top:559.77px;font-size:12.5px;color:#f0f0f0;right:1200.40px;text-align:right;">-18.99</div>
<div class="t" style="top:559.77px;font-size:12.5px;color:#f0f0f0;left:1221.50px;">-18.99</div>
<div class="t" style="top:584.77px;font-size:12.5px;color:#f0f0f0;right:1200.40px;text-align:right;">-41.37</div>
<div class="t" style="top:584.77px;font-size:12.5px;color:#f0f0f0;left:1221.50px;">-41.37</div>
<div class="t" style="top:109.77px;font-size:12.5px;color:#f0922a;left:1220.20px;">4247.05</div>
<div class="t" style="top:178.77px;font-size:12.5px;color:#f0922a;left:1221.40px;">4044.75</div>
<div class="t" style="top:48.53px;font-size:12.6px;color:#ea5564;font-weight:bold;left:1086.30px;transform:scaleX(0.9792);transform-origin:0 50%;">4381.29</div>
<div class="t" style="top:619.04px;font-size:12px;color:#ffffff;font-weight:bold;left:95.00px;transform:scaleX(1.0325);transform-origin:0 50%;">08/23</div>
<div class="t" style="top:619.04px;font-size:12px;color:#ffffff;font-weight:bold;left:431.00px;transform:scaleX(1.0225);transform-origin:0 50%;">09/12</div>
<div class="t" style="top:619.04px;font-size:12px;color:#ffffff;font-weight:bold;left:583.30px;transform:scaleX(1.0325);transform-origin:0 50%;">09/22</div>
<div class="t" style="top:619.04px;font-size:12px;color:#ffffff;font-weight:bold;left:743.90px;transform:scaleX(0.9925);transform-origin:0 50%;">10/01</div>
<div class="t" style="top:619.04px;font-size:12px;color:#ffffff;font-weight:bold;left:911.90px;transform:scaleX(1.0025);transform-origin:0 50%;">10/10</div>
<div class="t" style="top:619.04px;font-size:12px;color:#ffffff;font-weight:bold;left:1063.50px;transform:scaleX(1.0159);transform-origin:0 50%;">10/20</div>
<div class="t" style="top:619.16px;font-size:12.8px;color:#f0922a;left:256.80px;transform:scaleX(1.0115);transform-origin:0 50%;">2025/09/02</div>
<div class="t" style="top:619.16px;font-size:12.8px;color:#f0922a;left:327.60px;transform:scaleX(0.9180);transform-origin:0 50%;">18:00</div>
<div class="t" style="top:619.16px;font-size:12.8px;color:#f0922a;left:360.20px;transform:scaleX(0.9899);transform-origin:0 50%;">~</div>
<div class="t" style="top:619.16px;font-size:12.8px;color:#f0922a;left:369.50px;transform:scaleX(0.9305);transform-origin:0 50%;">22:00</div>
<div class="t" style="top:620.87px;font-size:12.5px;color:#f07a1e;font-weight:bold;left:30.70px;transform:scaleX(0.9832);transform-origin:0 50%;">240</div>
<svg width="1288" height="654" style="pointer-events:none"><path d="M69 633.5 L73.5 624 L78 633.5z" fill="#f07a1e"/></svg>
<div class="tab" style="left:20px;width:39px;background:#ff6a00;height:15px"></div>
<div class="tab" style="left:60px;width:39px;background:#0b0b0b"></div>
<div class="tab" style="left:100px;width:57px"><span class="tl" style="color:#f07a1e;text-align:left;text-indent:8px">VIP</span></div>
<div class="tab" style="left:158px;width:27px"><span class="tl">MA</span></div>
<div class="tab" style="left:186px;width:39px"><span class="tl">MACD</span></div>
<div class="tab" style="left:226px;width:39px"><span class="tl">BIAS</span></div>
<div class="tab" style="left:266px;width:33px"><span class="tl">CCI</span></div>
<div class="tab" style="left:300px;width:33px"><span class="tl">KDJ</span></div>
<div class="tab" style="left:334px;width:39px"><span class="tl">LW&amp; </span></div>
<div class="tab" style="left:374px;width:33px"><span class="tl">RSI</span></div>
<div class="tab" style="left:408px;width:27px"><span class="tl">CR</span></div>
<div class="tab" style="left:436px;width:33px"><span class="tl">PSY</span></div>
<div class="tab" style="left:470px;width:39px"><span class="tl">BOLL</span></div>
<div class="tab" style="left:510px;width:33px"><span class="tl">VOL</span></div>
<div class="tab" style="left:544px;width:33px"><span class="tl">OBV</span></div>
<div class="tab" style="left:578px;width:39px;background:#0b0b0b"></div>
<div class="t" style="top:610.61px;font-size:30px;color:#e4e6ee;letter-spacing:2.75px;left:1158.30px;">FX678</div>
<svg width="1288" height="654" viewBox="0 0 1288 654" style="pointer-events:none">
<rect x="1154" y="0" width="64" height="16" fill="#000"/>
<rect x="1155.5" y="1.5" width="13" height="13" fill="none" stroke="#8c8c8c" stroke-width="1"/>
<rect x="1171.5" y="1.5" width="13" height="13" fill="none" stroke="#8c8c8c" stroke-width="1"/>
<rect x="1187.5" y="1.5" width="13" height="13" fill="none" stroke="#8c8c8c" stroke-width="1"/>
<rect x="1203.5" y="1.5" width="13" height="13" fill="none" stroke="#8c8c8c" stroke-width="1"/>
<rect x="1160.8" y="6.8" width="2.4" height="2.4" fill="#9a9a9a"/>
<rect x="1157.3" y="6.8" width="2.4" height="2.4" fill="#9a9a9a"/>
<rect x="1164.3" y="6.8" width="2.4" height="2.4" fill="#9a9a9a"/>
<rect x="1160.8" y="3.3" width="2.4" height="2.4" fill="#9a9a9a"/>
<rect x="1160.8" y="10.3" width="2.4" height="2.4" fill="#9a9a9a"/>
<path d="M1174.6 3.5V12.5M1173 11.7H1182.5" stroke="#9a9a9a" stroke-width="1" fill="none"/><path d="M1174.6 2.6l-1.6 2.2h3.2zM1174.6 13l-1.6-2h3.2z M1183.2 11.7l-2-1.6v3.2zM1172.6 11.7l2-1.6v3.2z" fill="#9a9a9a"/>
<path d="M1190.6 3.5V12.5M1189 11.7H1198.5" stroke="#9a9a9a" stroke-width="1" fill="none"/><path d="M1190.6 2.6l-1.6 2.2h3.2zM1190.6 13l-1.6-2h3.2z M1199.2 11.7l-2-1.6v3.2zM1188.6 11.7l2-1.6v3.2z" fill="#9a9a9a"/>
<path d="M1177.5 4V10" stroke="#9a9a9a" stroke-width="1.2"/><path d="M1178.3 7l3.2-3v6z" fill="#9a9a9a"/>
<path d="M1193.4 4.3v6.4l5-3.2z" fill="#9a9a9a"/>
<rect x="1205.5" y="3.5" width="3" height="9" fill="none" stroke="#9a9a9a"/><path d="M1207 7.5H1212" stroke="#9a9a9a" stroke-width="1.3"/><path d="M1214.5 7.5l-3-2.6v5.2z" fill="#9a9a9a"/>
<circle cx="202.3" cy="11.2" r="3.9" fill="none" stroke="#f07a1e" stroke-width="1"/><path d="M198.4 11.2h7.8M202.3 7.3v7.8" stroke="#f07a1e" stroke-width="1"/>
<rect x="214.5" y="1.5" width="11" height="12" fill="#fff" stroke="#2a3ad0" stroke-width="1"/><path d="M215 11.5h11v2.2h-11z" fill="#c8c8d8"/><path d="M215.5 7.5l2.5-3 2 2.2 2-2.2 2.5 2" stroke="#e02020" fill="none" stroke-width="1"/><path d="M215.5 10.5l2.5-3 2 2.2 2-2.2 2.5 2" stroke="#2030e0" fill="none" stroke-width="1"/>
<circle cx="29" cy="453.8" r="3.9" fill="#000"/><circle cx="29" cy="453.8" r="2.9" fill="#fff"/><circle cx="29" cy="453.8" r="1.8" fill="#ff0000"/>
<line x1="34.0" y1="453.8" x2="36.2" y2="453.8" stroke="#ff0000" stroke-width="1.1"/>
<line x1="32.5" y1="457.3" x2="34.1" y2="458.9" stroke="#ff0000" stroke-width="1.1"/>
<line x1="29.0" y1="458.8" x2="29.0" y2="461.0" stroke="#ff0000" stroke-width="1.1"/>
<line x1="25.5" y1="457.3" x2="23.9" y2="458.9" stroke="#ff0000" stroke-width="1.1"/>
<line x1="24.0" y1="453.8" x2="21.8" y2="453.8" stroke="#ff0000" stroke-width="1.1"/>
<line x1="25.5" y1="450.3" x2="23.9" y2="448.7" stroke="#ff0000" stroke-width="1.1"/>
<line x1="29.0" y1="448.8" x2="29.0" y2="446.6" stroke="#ff0000" stroke-width="1.1"/>
<line x1="32.5" y1="450.3" x2="34.1" y2="448.7" stroke="#ff0000" stroke-width="1.1"/>
<path d="M1282.5 170.5l4 3.5h-8zM1282.5 174.5l4.3 4h-8.6z" fill="#f0a040"/>
<path d="M1079.5 62.3l3.6 3.6M1083.1 62.3l-3.6 3.6" stroke="#fff" stroke-width="1"/><path d="M1079.4 64.3h6.6" stroke="#fff" stroke-width="1"/>
<path d="M91.7 417.4l3.6 3.8M95.3 417.4l-3.6 3.8" stroke="#fff" stroke-width="1"/><path d="M91 419.5h7" stroke="#fff" stroke-width="1"/>
<path d="M961 641.5h6M970 641.5h6M979 641.5h5M1048 641.5h5M1056 641.5h5M1105 641.5h5M1108 641.5h5" stroke="#e8e8e8" stroke-width="1"/>
<g font-family="'Liberation Sans','Noto Sans CJK SC',sans-serif" font-size="12.5" text-anchor="middle">
<text x="10" y="17.6" fill="#d6d6d6">分</text>
<text x="10" y="31.5" fill="#d6d6d6">时</text>
<text x="10" y="45.6" fill="#d6d6d6">图</text>
<text x="10" y="80.6" fill="#ffffff">线</text>
<text x="10" y="94.6" fill="#ffffff">图</text>
<text x="10" y="115.6" fill="#d6d6d6">闪</text>
<text x="10" y="129.9" fill="#d6d6d6">电</text>
<text x="10" y="144.6" fill="#d6d6d6">图</text>
<text x="10" y="168.6" fill="#d6d6d6">合</text>
<text x="10" y="182.6" fill="#d6d6d6">约</text>
<text x="10" y="196.6" fill="#d6d6d6">资</text>
<text x="10" y="210.6" fill="#d6d6d6">料</text>
</g>
<g font-family="'Liberation Sans','Noto Sans CJK SC',sans-serif" font-size="12">
<text x="92" y="13.8" fill="#ffffff">现货黄金</text>
<text x="140" y="14" fill="#ff7410">【</text>
<text x="173.6" y="14" fill="#ff7410">分</text>
<text x="185.5" y="14" fill="#ff7410">】</text>
<text x="404.2" y="631.5" fill="#f0922a">二</text>
<text x="51.6" y="632.6" fill="#f07a1e" font-weight="bold" font-size="12.5">分</text>
<text x="28" y="649.6" fill="#ffffff">指标</text>
<text x="68" y="649.6" fill="#ffffff">模板</text>
<text x="126" y="649.6" fill="#f07a1e">指标</text>
<text x="586" y="649.6" fill="#dcdcdc">设置</text>
</g>
</svg>
</body></html>
